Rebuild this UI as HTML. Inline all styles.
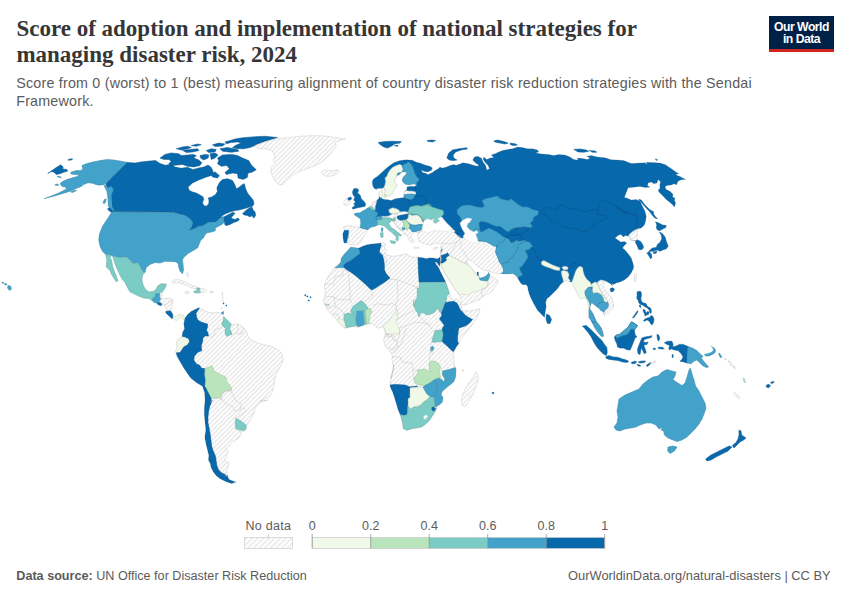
<!DOCTYPE html>
<html><head><meta charset="utf-8">
<style>
html,body{margin:0;padding:0;background:#fff;}
body{width:850px;height:600px;position:relative;overflow:hidden;font-family:"Liberation Sans",sans-serif;}
.t{position:absolute;white-space:nowrap;line-height:1;}
#title1{top:17.2px}#title2{top:42.9px}#title1,#title2{font-family:"Liberation Serif",serif;font-weight:bold;font-size:23px;color:#363636;left:16.4px;transform-origin:0 0;}
#sub1{top:75.7px}#sub2{top:94px}#sub1,#sub2{font-size:14.3px;letter-spacing:0.208px;color:#5b5b5b;left:16.2px;transform-origin:0 0;}
#logo{position:absolute;left:769px;top:16px;width:65px;height:36px;background:#002147;}
#logo .r{position:absolute;left:0;bottom:0;width:100%;height:2.6px;background:#ce261e;}
#logo .lt{position:absolute;left:0;width:100%;text-align:center;color:#fff;font-weight:bold;font-size:12.2px;line-height:1;letter-spacing:-0.5px;white-space:nowrap;}
.ft{font-size:12.7px;color:#5b5b5b;top:569.6px}#f1{left:16.3px;font-size:12.62px;top:569.7px}#f2{right:19.4px;font-size:12.86px;top:569.5px}
svg{position:absolute;left:0;top:0;}
</style></head><body>
<div class="t" id="title1">Score of adoption and implementation of national strategies for</div>
<div class="t" id="title2">managing disaster risk, 2024</div>
<div class="t" id="sub1">Score from 0 (worst) to 1 (best) measuring alignment of country disaster risk reduction strategies with the Sendai</div>
<div class="t" id="sub2">Framework.</div>
<div id="logo"><div class="lt" style="top:5.1px">Our World</div><div class="lt" style="top:16.9px">in Data</div><div class="r"></div></div>
<div class="t ft" id="f1"><b>Data source:</b> UN Office for Disaster Risk Reduction</div>
<div class="t ft" id="f2">OurWorldinData.org/natural-disasters | CC BY</div>
<svg width="850" height="600" viewBox="0 0 850 600">
<defs><pattern id="nd" patternUnits="userSpaceOnUse" width="3.3" height="3.3" patternTransform="rotate(-45 2 2)"><rect width="3.3" height="3.3" fill="#fff"/><path d="M -1,1.65 l 6,0" stroke="#cacaca" stroke-width="0.62"/></pattern><pattern id="ndl" patternUnits="userSpaceOnUse" width="4" height="4" patternTransform="rotate(-45 2 2)"><rect width="4" height="4" fill="#fff"/><path d="M -1,2 l 6,0" stroke="#ccc" stroke-width="0.7"/></pattern><mask id="clipSA" maskUnits="userSpaceOnUse" x="0" y="0" width="850" height="600"><polygon points="185,318 187.5,314.5 191.25,311.25 196.25,308.75 199,307.5 201.5,309 203.5,310 206,311.5 209,312.5 212,313 215,312.5 218,312 221,313.5 223,315 224,316.5 225.5,318.5 228,320.5 230,322.5 231.5,324.5 233,324.25 236,324 239,324.5 242,326 244,328 245.5,330 247,333 248,336 250,339 254,341 258,343 265,345 271.25,346.25 276.25,348.75 280,351.25 282.5,355 283,360 281.25,365 277.5,371.25 275.5,376.25 274.5,381.25 273.75,386.25 272.5,391.25 270,396.25 265,398.75 260,401.25 267.96,400 260.46,402.25 256.72,406 254.47,409.75 253.72,413.49 251.47,417.99 248.47,422.49 246.67,425.79 246.22,428.79 244.72,430.73 240.97,432.23 240.22,435.23 238.73,438.23 234.98,440.48 231.23,441.98 230.18,444.98 225.98,447.98 228.23,450.97 226.73,454.72 225.68,457.72 224.78,460.72 229.28,462.97 228.23,466.72 226.73,470.46 227.48,474.21 227.78,476.46 229.28,479.46 236.48,482.16 233.78,482.76 231.98,483.66 225.98,481.71 219.99,478.71 216.24,475.71 213.24,471.96 210.99,467.47 210.24,463.72 208.29,459.97 208.74,455.47 207.69,450.97 206.19,444.98 204.69,437.48 205.74,429.99 204.99,422.49 204.24,414.99 204.24,407.5 204.99,400 204.5,392.5 202.5,386.25 196.25,382.5 190,377.5 185,370 181.25,363.75 177,356.25 175.5,351.25 177,348.75 176.25,343.75 177.5,339.5 182,337 182.5,332.5 184.5,328.75 183.75,323.75" fill="#fff"/></mask><mask id="clipAF" maskUnits="userSpaceOnUse" x="0" y="0" width="850" height="600"><polygon points="350.62,246.88 355,247.5 358.75,248.12 362.5,246.25 367.5,244.38 373.75,243.75 380.62,243.12 383.75,242.5 385.62,244.38 384.38,247.5 386.25,250 385,252.5 386.25,255 392.5,256.25 400,255.5 406.25,253.75 410,256.25 415,257.5 418.75,257 421.75,257.4 426.25,258.38 430,257.63 433.75,258 437.5,258.75 439.75,257.1 440.35,259.5 440.65,262.5 439.38,266.63 438.4,264.75 436.75,262.5 434.88,261.9 436.38,264.38 438.63,267.38 440.5,271.5 442.75,276 444.63,279.75 445.75,282 446.88,285 448.12,288.75 449.38,292.5 450,296.25 452.5,299.38 457.5,298.75 460.62,303.75 461.88,306.88 461,309 463.12,310.62 467.5,311 472.5,310.62 476.88,309.38 480,308.75 479,313.12 476.25,318.75 472.5,324.38 468.12,330 463.75,335.62 460,340.62 458.75,343.75 456.88,346.25 455,349.38 453.5,351.88 453.12,355 454.38,358.75 453.75,362.5 455,366.88 455.62,367.5 456,371.25 455.62,367.5 456,372.5 455.62,377.5 453.75,381.88 450,385 446.25,388.12 442.5,391.25 441.25,394.38 443.12,397.5 442.5,401.88 440,404.38 436.88,406.25 436.88,408.12 435.62,411.25 433.12,415 430,420 426.25,423.75 421.88,426.88 417.5,428.12 412.5,428.75 406.88,430.62 403.12,428.75 402.5,423.75 401.25,418.75 400,414.38 398.12,410 396.25,403.75 394.38,397.5 392.5,391.88 390.62,388.12 389.75,385 390.62,380 391.88,375 393.12,370 393.75,365 390.62,378.75 392.5,373.75 393.75,368.75 393.12,365 391.88,360 392.5,356.25 391.25,353.12 388.75,350.62 386.25,347.5 384.38,343.75 383.75,340 384.38,337.5 385.62,333.12 384.38,330 383.12,326.25 380,328.12 376.25,327.5 373.75,324.38 370,323.75 365,324.75 361.25,326.25 357.5,327.25 353.75,326.5 348.75,327.5 345.62,328.5 343.12,326.88 340,323.75 336.88,320 333.75,316.88 331.25,313.75 327.5,310 325.62,306.25 323.75,302.5 323.5,300 324.38,296.25 325.62,292.5 324.75,288.75 324.38,285 325.62,281.25 327.5,277.5 330,273.75 332.5,270.62 334.38,267.75 338.12,265 340.62,261.88 341.25,258.12 343.75,254.38 347.5,250.62" fill="#fff"/></mask><mask id="clipEUR" maskUnits="userSpaceOnUse" x="0" y="0" width="850" height="600"><polygon points="352.5,245 348.75,243.75 346.88,243.12 344,243.12 343.12,238.75 342.75,233.75 344.38,230 343.12,226.88 347.5,225.62 353.75,226.5 360,227.5 360.62,222.5 360,218.75 357.5,216.88 355,215.62 353.75,213.75 356.88,212.75 360,212.75 361.88,211.25 364.38,210 367.5,208.12 368.75,206.88 371.25,206.25 371.88,202.5 375,201.5 376.25,200.62 378.75,198.75 379,195.62 378.75,192.5 381.88,190.62 383.12,192.5 382.5,196.25 381.88,198.75 385,199.38 388.12,199.75 391.25,200.62 395,198.75 400,198.12 403.75,197.5 403.75,194.75 404.38,191.25 406.88,189.38 406.88,186.88 410,186.25 414.38,186.5 416.5,185 413.75,184 409.38,185 405.62,184.38 403.12,182.5 401.88,180 403.12,176.88 405.62,174.38 406.88,172.5 404.38,171.88 402.5,171.88 400,173.75 397.5,175.62 396.25,176.75 394.75,179.75 395.12,182.75 397,185 395.88,188 394,190.25 392.5,193.25 390.25,195.5 388,196.25 387.25,195 385.62,196.88 384.38,195 385,190.62 383.75,187.5 381.88,188.75 379.38,188.5 376.25,189.38 373.75,188.12 372.5,185 372.25,181.25 373.75,178.75 377.5,176.25 381.25,173.12 385,169.38 388.75,166.25 393.75,162.75 400,160.62 406.25,159.75 412.5,160.25 416.25,162.25 420,163.12 425,165 430,166.25 432.5,168.12 431.25,170.62 427.5,171.88 423.75,171.25 421.25,170 422.5,172.5 425,173.12 428.12,174.38 432.5,172.5 435,170.62 438.12,168.75 440,166.88 441.88,168.12 445,167.5 450,165.62 453.75,164.38 456.25,165.25 463.12,162.75 468.75,163.75 472.5,165 477.5,166.25 478.75,165 475,162.5 472.75,160 474.38,156.88 477.5,156.25 481.25,158.12 483.12,161.88 485.62,165.62 486.88,170 489.38,168.75 488.12,165.62 485.62,163.12 483.12,159.38 483.75,156.88 486.88,159.38 490,158.12 493.75,157.5 491.25,155 495,153.75 498.75,151.88 502.5,150.62 507.5,149.38 512.5,148.75 517.5,146.88 522.5,147.5 527.5,148.75 532.5,148.75 537.5,150 538.75,151.88 535.62,153.12 542.5,154 548.75,154.38 553.75,155.62 558.75,154.38 565,155 570,156.88 573.75,159.38 578.12,160 577.5,158.12 582.5,158.5 587.5,159.38 590,158.12 586.88,156.25 591.25,155.62 597.5,156.88 605,157.75 611.25,159.75 617.5,160 623.75,160.62 630,163.12 631.88,163.5 638.75,163.12 645,162.75 647.5,164.38 646.25,162.25 652.5,162.5 660,163.12 665,164.38 668.75,166.88 672.5,169.38 676.25,172.25 678.75,173.5 675.62,174.75 680,176.5 685.62,179.38 681.25,179.75 678.12,181.25 676.25,185 674.38,183.75 671.25,185 666.88,185.62 665,186.88 666.25,189.38 670,191.25 673.12,194.38 672.5,196.88 675,198.12 674.38,200.62 675.62,202.5 674.75,206.88 670.62,203.12 666.25,199.38 662.5,195.62 659.38,192.5 658.12,190.62 660,188.12 659.75,184.38 660.62,181.88 658.12,179.38 656.88,183.12 653.75,183.75 651.25,181.88 648.12,183.12 647.5,185.62 650,187.25 645,187.5 640,186.5 633.75,187.25 628.12,187.75 626.25,192.5 624.38,197.5 626.88,198.12 631.25,200 636.25,199.38 640,201.25 642.5,206.25 645,211.25 646.25,216.25 645.62,221.25 644.38,225 641.25,228.12 638.12,228.75 637.5,232.5 636.88,236.25 637.5,239.75 640.62,241.25 643.12,245 643.75,248.12 641.25,250 638.5,249.38 636.88,245.62 635.62,243.12 635,240.62 633.12,240.62 630.62,240 630,237.5 628.12,236.25 625.62,235.62 623.12,236.88 621.25,234.38 618.75,235 615,238.12 618.12,240 620.62,241.88 624.38,241.5 626.88,243.12 624.38,245.62 622.5,248.12 625,250 628.75,254.38 631.25,258.12 632.75,262.5 633.75,266.25 633.12,270 633.12,268.75 631.25,273.12 628.12,276.88 624.38,280 620,281.88 616.25,283.12 613.75,284.38 611.88,283.75 612.5,286.25 611.25,284.38 609.38,283.12 606.25,281.88 603.75,280.62 605,283.12 603.12,285.62 604.38,288.75 608.12,293.75 611.88,298.12 613.75,303.75 613.12,308.12 610,311.25 606.25,314.38 604.38,316.25 603.75,313.75 603.12,311.88 600.62,310.62 598.5,308.12 596.88,306.88 594.38,305 591.88,303.12 590.62,305 590,308.75 593.12,313.75 595,318.12 596.88,321.88 599.38,325 601.88,328.75 603.12,333.12 603.75,336.25 601.88,336.88 599.38,334.38 596.88,331.25 594.38,327.5 592.5,323.75 590.62,320 588.75,317.5 588.75,313.75 588.75,310 588.5,307.5 588.12,304.38 586.88,300.62 585,297.5 581.88,298.75 579.38,298.12 578.12,295 576.25,291.88 574.38,288.12 572.5,285 571.88,281.88 568.75,281.88 566.25,280.62 564.38,281.88 562.5,282.5 560,285 557.5,288.75 553.75,292.5 550,296.25 546.88,298.75 545.62,302.5 546.25,306.25 545.62,310 544.5,317.5 537.25,310 536.25,308.12 533.75,303.75 531.25,298.75 529.38,294.38 528.12,290 527.5,286.25 525.62,284.38 523.12,285 520.62,283.12 518.75,280 517.5,277.5 515,275 513.12,273.75 508.12,274 503.75,274 501.25,273.75 497.5,273.75 492.5,272.5 489.38,271.25 486.25,270.62 482.5,270 478.75,266.88 475,263.75 471.25,260.62 468.12,259.38 466.5,260.62 466.88,262.5 468.75,265 471.25,267.5 473.75,270.62 475.62,273.75 477.25,275 476.88,271.88 478.5,271.88 478.75,275.62 479.38,277.25 480.62,277.75 483.75,277.12 486.5,275.25 487.75,273.75 488.75,272.25 490,275 492.5,276.88 495.62,278.75 498.12,280.62 497.5,283.12 495,286.88 493.12,290 490,292.5 485.62,295 482.5,296.88 480,299.38 475,301.25 470,303.12 465.62,305 461.88,305 461.25,301.88 460.62,298.12 459.38,295 456.88,291.88 453.75,287.5 450.62,282.5 447.5,277.5 444.38,272.5 441.88,267.5 442.15,267.75 440.88,265.5 440.88,262.88 440.65,262.5 440.35,259.5 439.9,257.1 440.13,255 440.5,252.75 440.88,249.38 441.25,246.75 440.62,247.5 441.88,243.12 438.75,243.75 435,243.12 431.25,245 426.88,244.38 422.5,243.12 418.75,241.25 418.12,237.5 417.5,234.38 420,231.88 418.12,232.75 415,231.88 412.5,233.75 410.62,236.25 412.5,238.75 414.38,241.88 411.88,243.12 409.38,240 407.5,236.88 406,233.75 404.38,235 403.75,233.12 402.5,231.25 400,229.38 397.5,226.88 395,223.75 393.12,221.5 391.88,220.62 390,221.88 388.75,223.75 391.25,227.5 395,230 398.75,233.12 401.88,235 400.62,236.25 398.12,235.62 398.75,238.75 397.5,241.25 395.62,240 396.25,236.88 393.75,234.38 390,231.25 386.88,228.75 384.38,226.25 381.88,225.62 380,225 378.12,225 375,226.5 371.25,227.25 368.12,229.38 366.88,232.5 364.38,235.62 362.5,238.75 360.62,242.5 356.88,244.38 352.5,245" fill="#fff"/></mask></defs>
<g stroke-linejoin="round">
<polygon points="128.12,162.5 120,161 113.75,160 107.5,159.38 100,160.62 92.5,162.12 86.25,163.75 81.88,165.62 82.75,168.5 81.25,170.62 76.25,170.62 71.25,171.88 70.62,173.75 74.38,174.62 79,174.38 77.25,176.5 72.5,177.75 66.88,179.62 62.5,181.5 60,183.75 61.88,186.25 64.75,187 66.88,188.12 65,189.75 58.75,193.12 51.25,196 44.38,198.5 52.5,196.5 61.25,194 70,191.25 76.25,188.38 81.25,186.5 83.12,184.75 88.12,182.75 92.5,183.25 95.62,184.38 99.38,185.25 103.75,184.38 128.12,162.5" fill="#43a2ca" stroke="#3785a6" stroke-width="0.5"/>
<polygon points="104.38,199.38 106.25,199 105.62,201.88 104,204 103.12,202.5" fill="#43a2ca" stroke="#3785a6" stroke-width="0.5"/>
<polygon points="47.75,173.5 51.88,170.62 56.25,167.5 60.62,164.75 63.12,166.88 62.75,169 66.88,169.38 67.75,171 63.75,172.25 60,173.75 56.25,174.5 54,172.25 51.25,171.5" fill="#0868ac" stroke="#0a568c" stroke-width="0.5"/>
<polygon points="67.75,160 70.62,158.75 72.75,159 70.62,160.25" fill="#0868ac" stroke="#0a568c" stroke-width="0.5"/>
<polygon points="56.88,176.25 60,176.5 61.5,177.75 58.75,177.25" fill="#43a2ca" stroke="#3785a6" stroke-width="0.5"/>
<polygon points="55,184.38 58.12,184 58.5,185.25 55.62,185.5" fill="#43a2ca" stroke="#3785a6" stroke-width="0.5"/>
<polygon points="70.62,191.88 74.38,190.25 76.5,190.62 72.75,192.5" fill="#43a2ca" stroke="#3785a6" stroke-width="0.5"/>
<polygon points="127.5,162.5 135,163 142.5,161.75 150,161 155.5,160.5 160,163.5 165.5,165.25 171.25,164.25 175,167 181.25,168.25 187.5,167.25 193,169.5 198.75,168 203.75,167 208,165 211.25,167.5 213,171.25 211.25,175.5 205,177.5 198.75,180 192.5,183 188,187 189.38,190.62 192.5,191.88 196.25,193.12 200,195 203.12,196.88 203.75,199.38 202.5,202.5 203.75,205.62 206.25,206.25 208.75,203.75 209,200 208.12,198.12 211.88,196.88 215.62,194.38 217.5,191.25 216.88,188.12 218.12,185 220,181.88 222.5,179.38 227.5,178.75 231.25,180 232.5,180.62 235,185 236.25,188.75 238.75,187.5 242.5,184.38 244.38,183.75 245.62,188.75 247.5,193.12 250.62,196.88 253.12,200 254,203.75 252.5,206.25 248.12,207.5 243.75,208.75 238.75,210 235,210.62 230,211.88 225.62,213.75 222.5,215.62 220,217.5 223.75,216.88 228.75,214.38 232.5,212.5 235,213.12 233.12,215.62 231.25,217.5 232.5,218.75 235,219.38 238.12,218.12 239.38,219.38 237.5,221.25 233.75,222.5 230,224.38 226.88,225.62 225,225 224.5,222.25 223.5,221 224,217.5 222,217 218.5,219.5 216,222 208,222.5 203,225.75 198,226.5 195,228.5 191.25,229.75 188.75,230.25 191.88,226.25 192.5,222.5 190.62,219.38 187.5,216.88 183.75,215 180,214.38 173,212.25 162.5,212 137.5,211.75 115,211.5 111.25,211.5 112,205 111.25,197.5 110,192.5 107.5,187.5 105.5,183.75" fill="#0868ac" stroke="#0a568c" stroke-width="0.5"/>
<polygon points="103.75,184.38 105,187.5 106.88,191.25 107.5,195 108.12,200 108.12,205 109.38,208.75 111.88,212.5 113.75,215 115,212.5 113.75,210 111.5,205 111.88,201.25 111.25,197.5 111.88,193.75 113.5,190 111.88,186.5 108.12,187.5" fill="#43a2ca" stroke="#3785a6" stroke-width="0.5"/>
<polygon points="242.5,213.75 245,211.25 248.12,208.75 251.88,206.88 253.12,210 255,211.88 255.62,215.62 253.75,218.12 251.88,215.62 250,216.88 247.5,215.62 244.38,215" fill="#0868ac" stroke="#0a568c" stroke-width="0.5"/>
<polygon points="107.5,208.75 110,208.12 113.12,211.25 113.75,213.12 111.25,212.25 108.5,210.25" fill="#0868ac" stroke="#0a568c" stroke-width="0.5"/>
<polygon points="112,211.75 107.5,218.75 102.5,226.25 99.5,233.75 98.75,240 100,246.25 102.5,251.25 105.62,254.38 110.62,255 118.75,257.5 126.25,256.88 130,260 133.12,263.75 137.5,262.5 140,266.25 142.5,271.25 145,272.5 146.25,267.5 150,264.38 155,262.5 160,263.12 165,261.25 171.25,261.5 176.25,261.88 178.12,263.75 178.75,267.5 180,271.25 182.5,273.75 183.5,270 183.12,265 182.5,260 183.25,258 188,253.5 194,250 198,247.5 198.75,245 200.62,240.62 203.75,237.5 205,235 206.5,233 210,232.25 213.5,231.5 215.5,230.5 215,228.5 217,227 221,225 224.5,222.25 223.5,221 224,217.5 222,217 218.5,219.5 216,222 208,222.5 203,225.75 198,226.5 195,228.5 191.25,229.75 188.75,230.25 191.88,226.25 192.5,222.5 190.62,219.38 187.5,216.88 183.75,215 180,214.38 173.75,212.5 140,212" fill="#43a2ca" stroke="#3785a6" stroke-width="0.5"/>
<polygon points="105.62,254.38 110.62,255 118.75,257.5 126.25,256.88 130,260 133.12,263.75 137.5,262.5 140,266.25 142.5,271.25 145,272.5 145,272.5 142.5,275 141.88,280 143.12,285 145,288.75 148.75,291.88 153.75,291.25 156.25,288.75 158.12,285.62 161.25,283.75 166.25,284 165.62,286.88 163.75,290 161.88,292.5 160,293.5 155.62,293.75 155.62,296.5 153.12,298.12 152.25,300.62 148.75,298.5 143.75,298.12 137.5,295.62 132.5,293.12 130,291.88 127.5,287.5 125,282.5 121.88,278.75 118.12,271.25 115,263.75 113.12,257.5 111.5,255.5 110,257 111.88,261.25 112.5,266.25 114.38,271.25 116.88,277.5 118,281 116,281.5 111.88,275 110,270.62 106.25,266.88 106.88,260" fill="#7bccc4" stroke="#62a59e" stroke-width="0.5"/>
<polygon points="160,158.12 165,154.38 171.25,152.88 178.75,153.75 181.25,155.62 187.5,155 193.12,154.38 196.25,155.62 193.75,158.12 198.75,160 201.88,162.75 200,165.62 193.75,166.88 187.5,166.25 182.5,164.38 177.5,165 171.25,165.62 168.75,163.75 171.25,161.25 168.75,159.38 163.75,159.38" fill="#0868ac" stroke="#0a568c" stroke-width="0.5"/>
<polygon points="176.25,148.75 182.5,146.88 187.5,146.25 191.25,147.5 187.5,148.75 181.25,150" fill="#0868ac" stroke="#0a568c" stroke-width="0.5"/>
<polygon points="191.25,145.62 197.5,144 201.25,144.75 196.25,146.25" fill="#0868ac" stroke="#0a568c" stroke-width="0.5"/>
<polygon points="182.5,150.25 190,149.38 197.5,148.75 199,150.62 192.5,152 186.25,152.5" fill="#0868ac" stroke="#0a568c" stroke-width="0.5"/>
<polygon points="206.25,150.62 211.25,148.75 216.25,149.38 215,151.88 208.75,152.5" fill="#0868ac" stroke="#0a568c" stroke-width="0.5"/>
<polygon points="200,155.62 205,154.38 208.75,155 208.12,158.12 203.75,160 200.62,158.12" fill="#0868ac" stroke="#0a568c" stroke-width="0.5"/>
<polygon points="210,153.75 215,153.12 218.12,155 215,158.12 211.25,159.38" fill="#0868ac" stroke="#0a568c" stroke-width="0.5"/>
<polygon points="210,173.12 215,171.88 219.38,175.62 217.5,178.12 212.5,176.88" fill="#0868ac" stroke="#0a568c" stroke-width="0.5"/>
<polygon points="236.25,138.75 242.5,137.75 252.5,136.88 265,136.25 277.5,137.5 270,140 262.5,142.5 255,145.62 250,147.5 243.75,148.75 237.5,148.75 232.5,147.5 236.25,145 241.25,143.12 237.5,141.88 231.25,142.5 226.25,143.75 225,141.88 230,140.62" fill="#0868ac" stroke="#0a568c" stroke-width="0.5"/>
<polygon points="212.5,144.75 218.75,143.12 225,144 222.5,146 215,146.5" fill="#0868ac" stroke="#0a568c" stroke-width="0.5"/>
<polygon points="220,148.75 227.5,147.5 237.5,149.38 238.75,151.25 231.25,152.25 222.5,151.25" fill="#0868ac" stroke="#0a568c" stroke-width="0.5"/>
<polygon points="217.5,158.12 222.5,155 231.25,154.38 237.5,155.38 242.5,158.12 248.75,160.62 251.25,165 256.25,169.75 251.88,172.25 248.12,173.12 247.25,177.5 243.12,179.38 238.12,178.12 237.5,173.75 232.5,173.12 226.25,174.38 225,172.5 229.38,168.75 226.88,165.62 221.25,166.25 217.5,163.75 218.75,160.62" fill="#0868ac" stroke="#0a568c" stroke-width="0.5"/>
<polygon points="255,145.62 261.25,143.12 268.75,140.62 277.5,138.5 287.5,137.75 300,136.25 312.5,135.62 325,136 335,137.5 345.62,139 340,140.62 335,142.5 336.25,146.25 333.12,150 331.25,153.12 327.5,156.88 323.75,160.62 320,163.12 315,165.62 310,167.5 305,169.38 300,171.25 295,173.75 290,177.5 286.25,181.25 283.12,184.38 280,185 276.25,182.5 273.75,178.75 271.88,175 270.62,170.62 271.88,166.88 275,163.75 273.12,160.62 275,156.88 273.75,153.12 271.25,150 266.25,148.75 260,148.75 256.25,147.5" fill="url(#nd)" stroke="#cbcbcb" stroke-width="0.5"/>
<polygon points="321.25,171.88 325,170 331.25,170.62 337.5,169.75 339,171.88 336.25,174.38 331.25,176.25 326.25,176.25 322.5,174.38" fill="url(#nd)" stroke="#cbcbcb" stroke-width="0.5"/>
<polygon points="155.62,293.75 160,293.75 160,296.88 161,298.75 159.38,301.25 156.88,302.75 154.38,302.75 152.25,300.62 153.12,298.12 155.62,296.5" fill="#43a2ca" stroke="#3785a6" stroke-width="0.5"/>
<polygon points="160,293.5 161.88,292.5 162.25,295.62 161,298.5 160,296.88" fill="url(#nd)" stroke="#cbcbcb" stroke-width="0.5"/>
<polygon points="161,299 166.25,298.12 171.88,299 173.12,300.62 170,301.88 167.5,303.75 164.38,305 161.88,304 160,301.88" fill="url(#nd)" stroke="#cbcbcb" stroke-width="0.5"/>
<polygon points="164.38,305 167.5,303.75 170,301.88 173.12,300.62 171.88,306.25 170.62,310.62 167.5,310.62 165.62,308.12" fill="url(#nd)" stroke="#cbcbcb" stroke-width="0.5"/>
<polygon points="156.88,302.75 159.38,302.25 161.88,304 161.25,305.62 158.12,304.75" fill="#0868ac" stroke="#0a568c" stroke-width="0.5"/>
<polygon points="165.88,311.25 170.62,311 172.5,313.75 173.12,317.5 171.88,318.75 170.25,316.88 167.5,314.38 166,313.12" fill="#0868ac" stroke="#0a568c" stroke-width="0.5"/>
<polygon points="173.12,315.62 175.62,316.88 178.12,315 181.25,314.38 183.75,315.62 185,318.12 184,320 182.5,318.12 180,317.25 178.12,319.38 176.25,320.62 174,319.38 173.12,317.5" fill="#f0f9e8" stroke="#c3ccbc" stroke-width="0.5"/>
<polygon points="171.25,281.88 173.75,280 177.5,279.38 182.5,280.62 187.5,283.12 192.5,285.62 197.5,287.5 200,288.75 195,288.75 190,287.5 187.5,285.62 182.5,283.75 177.5,282.5 173.75,283.12" fill="url(#nd)" stroke="#cbcbcb" stroke-width="0.5"/>
<polygon points="185,291.88 187.5,291.25 189.75,292.5 187.5,293.75 185.25,293.12" fill="#f0f9e8" stroke="#c3ccbc" stroke-width="0.5"/>
<polygon points="193.75,291.25 196.88,290.62 196.88,288.12 200,288.12 200.62,292.5 198.12,293.12 194.38,292.75" fill="#7bccc4" stroke="#62a59e" stroke-width="0.5"/>
<polygon points="200,288.12 203.75,288.75 206.88,290.62 205,292.5 200.62,292.75" fill="url(#nd)" stroke="#cbcbcb" stroke-width="0.5"/>
<polygon points="210,291.5 213.12,291.25 213.5,292.75 210.25,293" fill="url(#nd)" stroke="#cbcbcb" stroke-width="0.5"/>
<polygon points="186.25,273.12 187.75,272.75 188.75,275.62 187.75,277.25 186.88,275" fill="url(#nd)" stroke="#cbcbcb" stroke-width="0.5"/>
<polygon points="221.5,312.5 223.5,311.5 223.5,314 221.75,314.25" fill="#43a2ca" stroke="#3785a6" stroke-width="0.5"/>
<g mask="url(#clipSA)">
<rect x="0" y="0" width="850" height="600" fill="url(#nd)"/>
<polygon points="185,318 187.5,314.5 191.25,311.25 196.25,308.75 199,307.5 199.5,308 197.5,311 196,313.5 196.5,316.5 197.5,319.5 200,321.5 204,323 207.5,324 207.5,327 206.5,330 208,333 208.5,336 205,336 203,338 202.5,342 201.5,345 201.25,347.5 198.12,345.62 193.75,345 189.38,341.88 188.12,338.75 183.75,336.88 179.5,336.75 181.25,332.5 183,328.75 182.5,323.75" fill="#0868ac" stroke="#0a568c" stroke-width="0.5"/>
<polygon points="175,340 179.38,336.88 183.75,336.88 188.12,338.75 189.38,341.88 187.5,345 183.75,346.88 181.88,350 180,352.5 175,353.12" fill="#f0f9e8" stroke="#c3ccbc" stroke-width="0.5"/>
<polygon points="180,352.5 181.88,350 183.75,346.88 187.5,345 189.38,341.88 193.75,345 198.12,345.62 201.25,347.5 201.88,350.62 197.5,352.5 194.38,356.25 193.75,360 196.25,363.75 200,365.62 201.25,368.12 205,368.75 204.75,375 205.62,380 205,386.25 206.25,390 200,390 172.5,353.75 175,353.12" fill="#0868ac" stroke="#0a568c" stroke-width="0.5"/>
<polygon points="205,368.75 211.88,365.62 214.38,371.25 220,374.38 225.62,376.88 226.88,381.88 230.62,386.25 231.88,390 226.25,390.62 222.5,393.12 220.62,397.5 215,398.12 211.25,398.75 208.12,393.12 205.62,387.5 205,386.25 205.62,380 204.75,375" fill="#bae4bc" stroke="#97bb99" stroke-width="0.5"/>
<polygon points="202.5,386.25 205.5,387.5 208.75,393.75 211.25,398.75 210,405 212.19,400 210.24,404.5 208.74,410.49 207.99,416.49 207.99,422.49 209.19,428.49 210.24,434.48 210.99,440.48 211.74,446.48 213.24,450.97 215.49,456.22 216.24,461.47 216.99,465.97 218.49,469.72 221.48,472.71 225.98,474.96 223.73,476.46 227.48,475.71 229.28,479.46 236.48,482.16 233.78,482.76 231.98,483.66 225.98,481.71 219.99,478.71 216.24,475.71 213.24,471.96 210.99,467.47 210.24,463.72 208.29,459.97 208.74,455.47 207.69,450.97 206.19,444.98 204.69,437.48 205.74,429.99 204.99,422.49 204.24,414.99 204.24,407.5 204.99,400 204.5,392.5" fill="#0868ac" stroke="#0a568c" stroke-width="0.5"/>
<polygon points="235.73,418.29 239.48,420.24 243.97,423.24 246.67,425.79 246.22,428.79 243.67,430.73 239.48,429.69 235.73,428.79 235.28,423.99" fill="#7bccc4" stroke="#62a59e" stroke-width="0.5"/>
<polygon points="224,316.5 225.5,318.5 228,320.5 230,322.5 231.5,324.5 230.5,326 229.5,328.5 231,331.5 232,334.5 229.5,335 227,336.5 225.5,334.5 225,331.5 225.5,328.5 223,326 221.75,324 223,321" fill="#7bccc4" stroke="#62a59e" stroke-width="0.5"/>
<polyline points="221.25,396.25 225,391.25 231.25,391.25 233.75,396.25 236.25,401.25 241.25,403.75 240,410 235,411.25 232.5,406.25 226.25,403.75 222.5,400 221.25,396.25" fill="none" stroke="#c2c2c2" stroke-width="0.45"/>
<polyline points="208.5,336 210,337.5 214,335.5 215,332.5 214,330 217,329 220,328 223,326" fill="none" stroke="#c2c2c2" stroke-width="0.45"/>
<polyline points="232,334.5 236.5,333.5 240,334 244,332.5" fill="none" stroke="#c2c2c2" stroke-width="0.45"/>
<polyline points="237.5,324.25 238,329 236.5,333.5" fill="none" stroke="#c2c2c2" stroke-width="0.45"/>
<polyline points="243,327 242,331 240,334" fill="none" stroke="#c2c2c2" stroke-width="0.45"/>
<polyline points="211.25,398.75 217.5,398 222.5,400" fill="none" stroke="#c2c2c2" stroke-width="0.45"/>
<polyline points="240,410 243.75,407.5 246.25,411.25 235.73,418.29" fill="none" stroke="#c2c2c2" stroke-width="0.45"/>
<polyline points="235.73,418.29 235.28,423.99 235.73,428.79 240.97,432.23" fill="none" stroke="#c2c2c2" stroke-width="0.45"/>
</g>
<g mask="url(#clipAF)">
<rect x="0" y="0" width="850" height="600" fill="url(#nd)"/>
</g>
<polygon points="461.88,403.75 461.25,398.75 463.12,393.12 466.25,386.88 470,381.25 473.12,376.88 476.25,371.88 477.5,374.38 478.12,380 476.25,386.25 473.75,392.5 470.62,398.75 467.5,403.75 465,406.25 462.5,405.62" fill="url(#nd)" stroke="#cbcbcb" stroke-width="0.5"/>
<g mask="url(#clipAF)">
<polygon points="334.38,267.75 338.12,265 340.62,261.88 341.25,258.12 343.75,254.38 347.5,250.62 350.62,246.88 355,247.5 358.75,248.12 359.75,250.62 360.25,253.75 357.5,255.62 355,257.5 352.5,259.38 350,261.25 346.25,263.12 344,264.75 344,267.5" fill="#43a2ca" stroke="#3785a6" stroke-width="0.5"/>
<polygon points="358.75,248.12 362.5,246.25 367.5,244.38 373.75,243.75 380.62,243.12 381.25,245.62 380,248.75 379.38,251.88 382.5,255 383.75,260 384.38,265 384.38,270 386.25,273.75 390,278.12 385,281.88 380,285 375.62,288.12 371.88,290 370,288.75 366.25,285 361.25,280.62 356.25,276.25 351.25,272.5 346.25,269.38 344,267.5 344,264.75 346.25,263.12 350,261.25 352.5,259.38 355,257.5 357.5,255.62 360.25,253.75 359.75,250.62" fill="#0868ac" stroke="#0a568c" stroke-width="0.5"/>
<polyline points="379.38,251.88 382.5,255 385,252.5" fill="none" stroke="#c2c2c2" stroke-width="0.45"/>
<polygon points="418,257.63 421.75,257.4 426.25,258.38 430,257.63 433.75,258 437.5,258.75 439.75,257.1 440.35,259.5 440.65,262.5 439.38,266.63 438.4,264.75 436.75,262.5 434.88,261.9 436.38,264.38 438.63,267.38 440.5,271.5 442.75,276 444.63,279.75 445.75,282 419.13,282.15 418.38,270" fill="#0868ac" stroke="#0a568c" stroke-width="0.5"/>
<polygon points="419.38,282.5 445.62,282.25 446.88,285 448.12,288.75 449.38,292.5 448.75,294.38 446.88,295.62 446.25,300 445.62,302.5 443.75,306.25 441.88,309.38 440,312.5 438.75,309.38 436.88,308.75 435,311.88 431.25,313.75 426.88,315 423.12,312.5 420.62,313.12 418.75,316.88 418.12,313.75 415.62,310 413.75,305 413.75,300 413.75,306.25 415,303.12 415.62,299.38 417.25,298.12 417.25,288.12 419.38,288.12" fill="#7bccc4" stroke="#62a59e" stroke-width="0.5"/>
<polygon points="445.62,302.5 448.75,301.88 453.75,301.25 456.88,303.12 458.75,306.25 460,309.38 462.5,311.88 465,315 468.75,317.5 472.5,319.38 470,322.5 466.25,325.62 462.5,326.88 458.75,328.12 455,330 451.25,330 447.5,328.12 444.38,325.62 441.88,321.88 439.38,318.75 441.88,315.62 441.25,312.5 443.12,308.75 444.38,305.62" fill="#0868ac" stroke="#0a568c" stroke-width="0.5"/>
<polygon points="444.38,325.62 447.5,328.12 451.25,330 455,330 458.75,328.12 458.12,332.5 457.5,337.5 457.75,341.88 458.75,343.75 456.88,346.25 455,349.38 453.5,351.88 450.62,349.38 447.5,346.25 443.75,343.12 441.88,341.25 442.5,337.5 443.12,334.38 441.88,330 443.12,326.88" fill="#0868ac" stroke="#0a568c" stroke-width="0.5"/>
<polygon points="435,330.62 441.88,330 443.12,334.38 442.5,337.5 441.88,341.25 437.5,341.88 432.25,342.25 432.75,338.12 434,334.38" fill="#7bccc4" stroke="#62a59e" stroke-width="0.5"/>
<polygon points="430.62,347.5 432.75,346.25 434,348.12 432.75,350.62 430.62,351.25" fill="#43a2ca" stroke="#3785a6" stroke-width="0.5"/>
<polygon points="350.62,310.62 353.12,306.25 357.5,303.12 361.25,300.62 364.38,303.12 366.88,306.25 368.12,308.75 365,310.62 363.12,311.25 356.25,311.25 355,313.12 351.88,313.75" fill="#7bccc4" stroke="#62a59e" stroke-width="0.5"/>
<polygon points="344,314.38 348.12,313.12 351.88,313.75 355,313.12 356.25,315 356,320 356.88,325.62 353.75,326.5 348.75,327.25 346,327.5 345,323.75 344,320" fill="#7bccc4" stroke="#62a59e" stroke-width="0.5"/>
<polygon points="356.25,311.5 363.12,311.25 363.75,315 364,320 364.75,323.75 363.12,325.62 358.75,327.25 356.88,325.62 356,320 356.5,315" fill="#43a2ca" stroke="#3785a6" stroke-width="0.5"/>
<polygon points="363.12,311.25 365,311 365.62,315 366.25,320 366.5,324 364.75,324.38 364,320 363.75,315" fill="#7bccc4" stroke="#62a59e" stroke-width="0.5"/>
<polygon points="365,310.62 368.12,308.75 370.62,308.5 371.88,311.88 370,315 369.38,320 369.38,323.5 366.5,324 366.25,320 365.62,315" fill="#bae4bc" stroke="#97bb99" stroke-width="0.5"/>
<polygon points="337.25,320.25 340,317.75 341.88,319.38 344,321.25 345,324.38 345.62,328.12 343.12,326.88 340,323.75" fill="#f0f9e8" stroke="#c3ccbc" stroke-width="0.5"/>
<polygon points="383.12,326.25 385,323.75 388.75,321.25 391.88,316.88 394.38,313.12 396.25,309.38 397.5,311.25 396.88,315 398.12,318.75 396.25,321.25 398.12,326.25 400,331.25 399.38,334.38 395,333.75 390,334 386.25,333.75 385.25,330.62" fill="#f0f9e8" stroke="#c3ccbc" stroke-width="0.5"/>
<polygon points="389.75,385 395,384.38 405,385 410,386.88 417.5,386 417.5,387.25 410.62,387.5 410,397.5 408.12,398.12 407.75,406.25 407.25,414.38 403.75,415.62 400,414.38 398.12,410 396.25,403.75 394.38,397.5 392.5,391.88 390.62,388.12" fill="#0868ac" stroke="#0a568c" stroke-width="0.5"/>
<polygon points="410,388 418,387 423,387 424.6,390 427,394 431,397 428,400 424,402 421,405 416,406 413,409 409,408 408,399 410,398" fill="#f0f9e8" stroke="#c3ccbc" stroke-width="0.5"/>
<polygon points="414,378 417.4,374 418,370 425,369 430,372 429,365 430,361.6 434,361 438.6,363.6 440.6,367 439.4,372.4 442,376 439,378 434,380 430,383 425,385.6 419.4,385 415,383" fill="#bae4bc" stroke="#97bb99" stroke-width="0.5"/>
<polygon points="423,387 425,385.6 430,383 434,380 436.6,383 437.4,388 436,393 434,397 431,397 427,394 424.6,390" fill="#43a2ca" stroke="#3785a6" stroke-width="0.5"/>
<polygon points="439.4,366 442,370 442.6,375 445,379 444,382 442,380 441,377 439.4,372.4 440.6,367" fill="#f0f9e8" stroke="#c3ccbc" stroke-width="0.5"/>
<polygon points="442.6,371 449,369.6 455.4,367.6 459,372 459,380 453,386 447,390 445,396 446,400 443,405 438,407 435,406.4 434.6,401 434,397 436,393 437.4,388 436.6,383 434,380 439,378 442,380 444,382 445,379 442.6,375" fill="#43a2ca" stroke="#3785a6" stroke-width="0.5"/>
<polygon points="400,414.38 403.75,415.62 407.25,414.38 407.75,406.25 410.62,409.38 413.75,406.88 417.5,406.88 421.25,405 423.75,401.88 427.5,399.38 429.38,396.88 431.88,397.25 433.75,398.12 434.38,402.5 435,407.5 436.25,408.75 436.88,408.12 435.62,411.25 433.12,415 430,420 426.25,423.75 421.88,426.88 417.5,428.12 412.5,428.75 406.88,430.62 403.12,428.75 402.5,423.75 401.25,418.75" fill="#7bccc4" stroke="#62a59e" stroke-width="0.5"/>
<polygon points="431.88,407.5 433.75,406.88 435.25,408.75 434,411 431.88,410" fill="#0868ac" stroke="#0a568c" stroke-width="0.5"/>
<polygon points="423.5,416.5 426,414.75 428.12,416.25 425.62,419.38 423.75,418.75" fill="url(#nd)" stroke="#cbcbcb" stroke-width="0.5"/>
</g>
<g mask="url(#clipEUR)">
<rect x="0" y="0" width="850" height="600" fill="#0868ac"/>
<polygon points="340,222.5 360,222.5 360,227.5 365,229 368.12,229.38 372.5,236.25 366.25,250 346.88,250 346.88,243.12 347.5,240 348.75,235 349,230 344.38,230 340,229.38" fill="url(#nd)" stroke="#cbcbcb" stroke-width="0.5"/>
<polygon points="360,227.5 353.75,221.25 350,215 352.5,210 366.25,205 367.5,208.12 369.38,207.75 371.25,209.38 373.75,210.62 376.88,211.88 378.12,213.75 376.88,215.62 375.62,217.5 376.88,220 377.5,223.12 378.12,225 377.5,230 368.12,230 368.12,229.38 365,229" fill="#43a2ca" stroke="#3785a6" stroke-width="0.5"/>
<polygon points="366.88,205.62 368.75,206.88 371.25,206.25 373.75,208.12 375,210 373.75,210.62 371.25,209.38 369.38,207.75 367.5,208.12" fill="#7bccc4" stroke="#62a59e" stroke-width="0.5"/>
<polygon points="371.25,206.25 369.38,203.75 371.25,200 376.88,199.75 376,203.75 375.25,206.25 375,210 373.75,208.12" fill="url(#nd)" stroke="#cbcbcb" stroke-width="0.5"/>
<polygon points="375.62,217.5 378.75,216.25 381.88,216.25 383.12,218.12 380.62,219.75 377.5,220 376.88,220" fill="#43a2ca" stroke="#3785a6" stroke-width="0.5"/>
<polygon points="383.12,218.12 381.88,216.25 385,216.5 388.75,216 392.5,213.75 396.88,213.5 397.5,215.62 397.5,216.25 395,217.5 391.88,219.75 391.25,218.5 387.5,217.75" fill="url(#nd)" stroke="#cbcbcb" stroke-width="0.5"/>
<polygon points="388.75,209.38 392.5,207.75 396.25,208.75 398.75,210 400,211.88 396.88,213.5 392.5,213.75 389.38,212.75" fill="#f0f9e8" stroke="#c3ccbc" stroke-width="0.5"/>
<polygon points="396.88,213.5 400,211.88 404.38,211.5 408.12,212.25 408.75,214 406.25,214.38 401.25,215.25 397.5,216.25 397.5,215.62" fill="url(#nd)" stroke="#cbcbcb" stroke-width="0.5"/>
<polygon points="377.5,223.12 376.88,220 380.62,219.75 383.12,218.12 387.5,217.75 391.25,218.5 391.88,219.75 391.88,220.62 390,221.88 388.75,223.75 391.25,227.5 395,230 398.75,233.12 405,235 402.5,238.75 398.75,242.5 393.75,242.5 390,233.75 385,230 380,227.5 377.5,226.25" fill="#7bccc4" stroke="#62a59e" stroke-width="0.5"/>
<polygon points="391.88,219.75 395,217.5 396.25,220.62 393.12,221.5 391.88,220.62" fill="#7bccc4" stroke="#62a59e" stroke-width="0.5"/>
<polygon points="393.12,221.5 396.25,220.62 395,217.5 397.5,216.25 397.5,218.75 400.62,220.25 402.5,220.25 403.75,224.38 404.38,228.12 406.88,229.38 409.38,228.12 410.62,229.38 412.5,231.88 416.25,231.25 420.62,230 422.5,231.25 425,235 416.25,250 405,250 402.5,231.25 397.5,226.88 395,223.75" fill="url(#nd)" stroke="#cbcbcb" stroke-width="0.5"/>
<polygon points="397.5,216.25 401.25,215.25 406.25,214.38 408.75,214 408.12,216.88 405,219.38 400.62,220.25 397.5,218.75" fill="#0868ac" stroke="#0a568c" stroke-width="0.5"/>
<polygon points="402.5,220.25 405.62,219.75 408.12,222.5 410,225.62 409.38,228.12 406.88,229.38 404.38,228.12 403.75,224.38" fill="#bae4bc" stroke="#97bb99" stroke-width="0.5"/>
<polygon points="402.25,227.25 404.38,228.12 404.75,229.75 402.5,229.75" fill="#43a2ca" stroke="#3785a6" stroke-width="0.5"/>
<polygon points="408.75,216.88 408.12,216.88 408.75,214 412.5,215.25 417.5,215 421.25,217.5 422.5,221.88 425,222.5 424.38,225 420,224.38 415,225.25 411.25,224.75 408.75,222.5 406.25,220" fill="#f0f9e8" stroke="#c3ccbc" stroke-width="0.5"/>
<polygon points="410.62,226 411.25,224.75 415,225.25 420,224.38 424.38,225 422.5,227.5 421.25,230 416.25,231.25 412.5,231.88 410.62,229.38 409.75,228.12" fill="#43a2ca" stroke="#3785a6" stroke-width="0.5"/>
<polygon points="408.75,210 410,206.88 416.25,205.62 422.5,206.25 426.25,204.38 431.25,205 422.5,205.62 428.12,204.38 431.88,206.88 437.5,208.75 443.12,210.62 443.75,213.75 441.25,216.88 443.12,218.75 440,221.25 437.5,223.12 433.12,223.75 431.88,220 428.12,218.75 425.62,219.38 423.75,220.62 421.88,219.38 420,216.25 417.5,214.38 413.75,214.38 410.62,213.75 412.5,215.25 408.75,214 408.12,212.25" fill="#7bccc4" stroke="#62a59e" stroke-width="0.5"/>
<polygon points="420,216 422.25,217.5 423.75,220.62 421.88,219.75 421,217.75" fill="#7bccc4" stroke="#62a59e" stroke-width="0.5"/>
<polygon points="376.88,188.75 385,188.75 385,197.5 380.62,197.75 379,196.25 376.88,195" fill="#f0f9e8" stroke="#c3ccbc" stroke-width="0.5"/>
<polygon points="400,164.38 401.88,165.62 403.12,168.75 402.5,171.88 397.5,173.12 396.25,178.12 397.5,184.38 396.25,190 393.75,195 389.38,198.12 385,198.12 383.12,195 385,190.62 383.75,187.5 385,185 385.62,181.25 385,178.12 386.88,176.25 388.12,173.12 390,170 392.5,167.5 396.25,165.62" fill="#f0f9e8" stroke="#c3ccbc" stroke-width="0.5"/>
<polygon points="401.88,165.62 403.75,164.38 406.25,163.5 408.12,161.88 410,162.75 412.5,166.25 413.75,170 415,173.75 416.88,176.88 419.38,179.38 416.88,182.5 416.5,185.62 409.38,186 403.75,185 400.62,180 402.5,176.25 406.25,173.75 404.38,171.88 402.5,171.88 403.12,168.75" fill="#43a2ca" stroke="#3785a6" stroke-width="0.5"/>
<polygon points="401.25,192.5 405.62,190.62 408.12,191 412.5,191.25 415.62,191.88 415.62,194.38 411.25,194 407.5,194.38 403.75,194.75 401.25,195" fill="url(#nd)" stroke="#cbcbcb" stroke-width="0.5"/>
<polygon points="401.88,195 403.75,194.75 407.5,194.38 411.25,194 415,195 413.75,198.12 410.62,200 406.88,198.75 404.38,197.75 401.88,198.12" fill="#43a2ca" stroke="#3785a6" stroke-width="0.5"/>
<polygon points="421,231 430,228 445,228 450.6,230 453,232 455.5,233.4 457,235.3 459,237.1 462.25,238.4 464,237 468,235 476,238 478,241.25 482.5,241.25 487.5,240.6 492.5,243.1 494.4,244.4 496.25,247.5 495.62,252.5 497.5,256.88 499.38,261.88 501.25,264.38 503.12,268.12 503.75,271.25 501.25,273.75 503,276 506,312 450,312 428,268 436,250 415,250 415,233" fill="url(#nd)" stroke="#cbcbcb" stroke-width="0.5"/>
<polygon points="440.88,262.88 442.38,262.88 444.63,261.75 446.5,260.25 445.75,258.38 446.5,256.88 449.13,255.38 451.25,256.25 456.25,258.75 461.25,261.88 466.25,263.75 468.75,265 471.25,267.5 473.75,270.62 475.62,273.75 477.25,275 479.38,277.25 480,280 486.25,280.88 487.75,280.62 488.12,284.38 486.25,287.5 481.88,289.38 476.88,291.25 471.88,292.5 468.75,295 465,294.38 461.25,294.38 459.38,295 456.88,291.88 453.75,287.5 450.62,282.5 447.5,277.5 444.38,272.5 441.88,267.5 442.15,267.75 440.88,265.5" fill="#f0f9e8" stroke="#c3ccbc" stroke-width="0.5"/>
<polygon points="479.38,277.25 480.62,277.75 483.75,277.12 486.5,275.25 487.75,273.75 488.75,272.25 490,275 489,278.12 487.75,280.62 486.25,280.88 480,280" fill="#43a2ca" stroke="#3785a6" stroke-width="0.5"/>
<polygon points="476.88,271.88 478.5,271.88 478.75,275.62 477.25,275.25" fill="#0868ac" stroke="#0a568c" stroke-width="0.5"/>
<polygon points="440.88,255.38 443.5,254.63 446.13,253.88 447.63,252.75 449.13,255.38 446.5,256.88 445.75,258.38 446.5,260.25 444.63,261.75 442.38,262.88 440.88,262.88 440.65,262.5 441.25,259.5" fill="#0868ac" stroke="#0a568c" stroke-width="0.5"/>
<polygon points="440.88,249.38 442.38,249 441.63,251.25 440.5,252.75" fill="#43a2ca" stroke="#3785a6" stroke-width="0.5"/>
<polyline points="481.88,289.38 481.25,292.5 482.5,296.88" fill="none" stroke="#c2c2c2" stroke-width="0.45"/>
<polyline points="487.75,280.62 488.12,284.38 486.25,287.5 481.88,289.38" fill="none" stroke="#c2c2c2" stroke-width="0.45"/>
<polyline points="441.88,243.12 447.5,243.75 452.5,243.12 456.88,241.88 459.38,240" fill="none" stroke="#c2c2c2" stroke-width="0.45"/>
<polyline points="456.88,241.88 455,246.25 452.5,250 449.38,255.62" fill="none" stroke="#c2c2c2" stroke-width="0.45"/>
<polyline points="441.25,255 443.5,254.63" fill="none" stroke="#c2c2c2" stroke-width="0.45"/>
<polyline points="459.38,240 461.25,243.75 460.62,248.12 463.75,251.25 465.62,255.62 468.12,258.75" fill="none" stroke="#c2c2c2" stroke-width="0.45"/>
<polyline points="451.25,256.25 456.25,258.75 461.25,261.88 466.25,263.75 466.5,260.62" fill="none" stroke="#c2c2c2" stroke-width="0.45"/>
<polyline points="458.75,235 460,237.5 459.38,240" fill="none" stroke="#c2c2c2" stroke-width="0.45"/>
<polyline points="440.5,252.75 441.25,255 440.88,255.38 441.25,259.5 440.65,262.5" fill="none" stroke="#c2c2c2" stroke-width="0.45"/>
<polygon points="456.88,210.62 459.38,207.5 462.5,205.62 467.5,205 471.88,205.62 476.88,206.88 481.88,207.5 484.38,206.25 483.12,203.12 481.88,200.62 485.62,198.75 491.25,197.5 496.88,196 500.62,198.75 505,200 508.75,200.62 511.25,198.75 515,201.88 518.12,204.38 522.5,206.88 527.5,206.88 532.5,209.38 538.75,211.25 537.5,215 533.75,216.88 532.5,221.25 530,223.12 532.5,226.25 530,228.12 525,226.88 520,227.5 515,228.12 511.25,229.38 508.12,231.88 505.62,230.62 502.5,228.12 500,226.25 496.25,226.25 492.5,225 488.75,223.12 485,221.88 481.25,221.25 478.75,223.12 479.38,226.88 480,230 476.88,228.75 474.38,229.38 471.25,233.12 466.25,230.62 462.5,225 460.62,217.5 457.5,213.75" fill="#43a2ca" stroke="#3785a6" stroke-width="0.5"/>
<polygon points="476.88,228.75 480,230 480.62,231.88 483.12,231.25 486.25,229.38 488.75,228.12 491.88,229.38 495.62,231.25 499.38,233.75 502.5,236.25 505.62,238.12 503.75,241.25 500,243.12 497.5,245.62 493.75,246.25 490,243.75 486.25,241.88 482.5,241.25 479.38,240.62 473.75,240.62 470.62,233.75 474.38,229.38" fill="#43a2ca" stroke="#3785a6" stroke-width="0.5"/>
<polygon points="497.5,245.62 500,243.12 503.75,241.25 505.62,238.12 508.75,238.75 509.38,240 511.25,242.5 513.75,241.88 516.25,240 520,241.25 523.12,240 526.25,241.25 518.12,245 517.5,248.75 516.25,251.88 513.75,255 511.88,258.12 509.38,259.38 508.12,262.5 504.38,263.12 501.25,264.38 499.38,261.88 497.5,256.88 495.62,252.5 496.25,247.5" fill="#43a2ca" stroke="#3785a6" stroke-width="0.5"/>
<polygon points="526.25,241.25 530,242.5 532.5,246.25 531.25,247.5 528.75,249.38 525,250.62 526.88,253.75 528.12,256.88 526.25,260 524.38,263.12 521.88,266.25 519.38,268.12 520.62,271.25 522.5,275 520,276.25 517.5,277.5 516.25,282.5 500,278.75 501.25,273.75 503.75,271.25 503.12,268.12 501.25,264.38 504.38,263.12 508.12,262.5 509.38,259.38 511.88,258.12 513.75,255 516.25,251.88 517.5,248.75 518.12,245" fill="#43a2ca" stroke="#3785a6" stroke-width="0.5"/>
<polygon points="541.25,261.88 543.75,260.62 547.5,262.5 552.5,265 557.5,266.88 560,267.75 559.38,270.62 555,270 550,268.12 545,266.25 541.88,264.75" fill="#f0f9e8" stroke="#c3ccbc" stroke-width="0.5"/>
<polygon points="561.88,267.25 565,266.25 568.12,267.25 567.5,269.38 563.75,269.75" fill="url(#nd)" stroke="#cbcbcb" stroke-width="0.5"/>
<polygon points="561.25,271.25 563.75,270.62 567.5,271.5 569,274.38 568.12,278.12 570,280.62 569,283.75 566.25,284.38 563.75,284.38 563.12,279.38 561.88,275.62" fill="#f0f9e8" stroke="#c3ccbc" stroke-width="0.5"/>
<polygon points="575.62,271.25 577.5,268.12 580,266.25 582.5,267.5 583.12,271.25 584.38,275.62 586.88,279.38 590,281.88 591.25,284.38 592.75,286.88 590.62,286.88 588.12,287.5 585,291.25 585,293.75 586.25,296.88 588.12,300 589.75,303.12 590,306.25 589.38,310.62 586.88,310 585,305 582.5,300.62 578.75,300.62 575,296.25 571.88,288.75 570,283.12 571.88,281.88 573.12,278.75 574.38,275" fill="#f0f9e8" stroke="#c3ccbc" stroke-width="0.5"/>
<polygon points="585,291.25 588.12,287.5 590.62,286.88 592.5,290 593.12,293.12 597.5,292.5 601.25,294.38 603.5,298.12 604.38,301.88 600,302.5 597.5,304.38 596.88,306.88 596.25,309.38 592.5,307.5 592.75,313.75 595,318.12 596.88,321.88 593.75,322.5 590.62,320 586.25,317.5 586.25,310 586.88,310 589.38,310.62 590,306.25 589.75,303.12 588.12,300 586.25,296.88 585,293.75" fill="#43a2ca" stroke="#3785a6" stroke-width="0.5"/>
<polygon points="591.25,284.38 593.12,283.12 595.62,281.88 597.5,283.75 598.75,286.25 600,289.38 602.5,293.75 605.62,298.12 608.12,301.88 606.25,302.5 604.38,301.88 603.5,298.12 601.25,294.38 597.5,292.5 593.12,293.12 592.5,290 592.75,286.88" fill="#f0f9e8" stroke="#c3ccbc" stroke-width="0.5"/>
<polygon points="597.5,304.38 600,302.5 604.38,301.88 606.25,302.5 608.12,301.88 609,305.62 608.12,308.12 605.62,310 603.12,313.75 600,312.5 597.5,310 596.88,306.88" fill="#43a2ca" stroke="#3785a6" stroke-width="0.5"/>
<polygon points="597.5,281.88 600.62,280 603.75,280.62 607.5,281.88 612.5,296.25 617.5,305 613.75,313.75 605,320 601.25,315 603.12,313.75 605.62,310 608.12,308.12 609,305.62 608.12,301.88 605.62,298.12 602.5,293.75 600,289.38 598.75,286.25 597.5,283.75" fill="url(#nd)" stroke="#cbcbcb" stroke-width="0.5"/>
<polygon points="593.75,322.5 596.88,321.88 599.38,325 601.88,328.75 603.12,333.12 603.75,336.25 606.25,338.75 601.25,340 596.88,333.75 592.5,327.5 590,322.5" fill="#43a2ca" stroke="#3785a6" stroke-width="0.5"/>
<polygon points="638.12,228.75 641.25,230 640,233.75 637.5,239.75 635,240.62 633.12,240.62 630.62,240 630,237.5 628.12,236.25 630,233.75 633.12,231.25 636.25,229.38" fill="url(#nd)" stroke="#cbcbcb" stroke-width="0.5"/>
</g>
<polygon points="421.5,231.88 422.25,227.5 423.12,224.38 423.75,221.25 425.62,219.38 428.12,218.75 431.25,220 434.38,218.75 433.12,220.62 433.12,222.5 435.62,223.38 438.12,221.88 440,220.62 437.5,218.75 440,217.5 441.88,217.12 443.12,218.75 446.25,222.5 450,226.25 452.5,228.75 455,231 453.75,232.75 450,231.88 445,231.25 438.75,230.62 432.5,231.25 427.5,232.75 423.75,231.25" fill="#ffffff" stroke="#dcdcdc" stroke-width="0.5"/>
<polygon points="460,223.12 463.12,220 467.5,218.12 471.88,218.75 470,221.88 467.5,223.75 466.88,226.88 470,230 473.75,231.88 476.88,230.62 478.12,233.12 475.62,233.75 476.88,237.5 478.12,241.25 475,243.12 470.62,241.88 466.25,240 463.12,236.25 465,233.75 463.12,230.62 461.25,226.88" fill="#ffffff" stroke="#dcdcdc" stroke-width="0.5"/>
<polygon points="619,399 625,395 632,392 639,389 643,384 648,380 653,377 658,376 662,372 667,369.6 672,371 676,372 675,376 673,379.6 677,382.4 682,385.6 685,383 687,377 689,370 690.4,368 692,374 694,380 695.6,386 699,391 702,397 705,403 706,408 704,414 702,419 699,424 695,429 691,433 687,437 682,440 677,441.6 673,440 668,438 664.4,435 663.6,431 661,430 663,427 659,429 656,425 651,423 646,423 640,425 636,427 631,428 625,429 620,431 616,430 614,427 617,423 618,417 617,411 618,405" fill="#43a2ca" stroke="#3785a6" stroke-width="0.5"/>
<polygon points="668,447 673,446 677,447 674.4,451 670,453.6 667.6,451" fill="#43a2ca" stroke="#3785a6" stroke-width="0.5"/>
<polygon points="739,430 741,431 741.6,435 746,438 743.6,440 740,442 737,445 734,448 732.4,445.6 736,442.4 738,439 739,435" fill="#0868ac" stroke="#0a568c" stroke-width="0.5"/>
<polygon points="705.6,459 711,455 717,452 723,449 729,446 732,447 728,451 722,454 716,457 711,460 707,461" fill="#0868ac" stroke="#0a568c" stroke-width="0.5"/>
<polygon points="734,392.4 738,395 740,398 738.4,398.4 735,395.6" fill="url(#nd)" stroke="#cbcbcb" stroke-width="0.5"/>
<polygon points="664.38,342.75 667.5,341.25 671.88,341.25 673.12,344.38 672.5,346.88 675.62,346.25 679.38,344.38 683.12,344.38 688.12,346.5 687.25,353.75 686.88,363.12 683.75,361.88 680,361.25 681.88,359.38 683.12,356.88 681.25,353.75 678.12,350.62 674.38,350 671.25,348.75 669.38,350 668.75,347.5 670,345.62 666.88,344.38" fill="#0868ac" stroke="#0a568c" stroke-width="0.5"/>
<polygon points="688.12,346.5 692.5,348.12 696.88,350.62 700,353.75 703.12,356.25 701.25,358.12 703.75,361.25 706.88,365 708.75,366.88 706.25,367.5 702.5,365.62 699.38,362.5 696.88,360 693.75,361.25 691.25,363.75 686.88,363.12 687.25,353.75" fill="#43a2ca" stroke="#3785a6" stroke-width="0.5"/>
<polygon points="704.38,354.38 707.5,353.75 711.25,352.5 713.75,350 712.5,347.25 711.25,346.25 715,348.75 715.62,351.88 712.5,354.38 708.75,356 705.62,356" fill="#43a2ca" stroke="#3785a6" stroke-width="0.5"/>
<polygon points="718.75,353.12 720,353.75 721.88,357.25 720.62,357.75 719,355" fill="#43a2ca" stroke="#3785a6" stroke-width="0.5"/>
<polygon points="723.75,358.12 726.25,359 726.5,360 724.38,359.38" fill="url(#nd)" stroke="#cbcbcb" stroke-width="0.5"/>
<polygon points="728.12,360.62 731.25,361.88 731.88,363.5 729,362.5" fill="url(#nd)" stroke="#cbcbcb" stroke-width="0.5"/>
<polygon points="732.5,365 735,366.88 735.62,368.5 733.5,367.5" fill="url(#nd)" stroke="#cbcbcb" stroke-width="0.5"/>
<polygon points="730,364.38 731.88,365 731.25,366" fill="url(#nd)" stroke="#cbcbcb" stroke-width="0.5"/>
<polygon points="743.12,378.12 744.38,378.5 745.62,382.5 744,382.25" fill="#bae4bc" stroke="#97bb99" stroke-width="0.5"/>
<polygon points="656.88,334.38 658.75,335 659.75,338.12 658.75,341.25 657.5,339.38" fill="#0868ac" stroke="#0a568c" stroke-width="0.5"/>
<polygon points="653.12,348.12 655.62,348.5 655,349.75 653.5,349.5" fill="#0868ac" stroke="#0a568c" stroke-width="0.5"/>
<polygon points="658.12,347.25 662.5,347.25 664.38,348.75 661.25,349 658.5,348.5" fill="#0868ac" stroke="#0a568c" stroke-width="0.5"/>
<polygon points="672.25,354.38 673.25,354.75 673,357.5 672,357.25" fill="#0868ac" stroke="#0a568c" stroke-width="0.5"/>
<polygon points="582.5,326 586.25,325.62 590,328.75 594.38,333.12 598.12,336.88 601.88,340.62 604.38,344.38 606.88,347.5 607.25,352.5 606.25,355.62 603.12,353.75 599.38,350 596.25,346.25 593.75,341.88 591.25,336.88 588.12,332.5 585,328.75" fill="#0868ac" stroke="#0a568c" stroke-width="0.5"/>
<polygon points="605.62,356.88 608.75,355.62 613.12,356.88 617.5,357.25 622.5,359 626.25,360 628.75,361.25 626.88,362.5 622.5,361.88 618.12,360.62 613.75,360 609.38,359.38 606.5,358.5" fill="#0868ac" stroke="#0a568c" stroke-width="0.5"/>
<polygon points="631.25,362.5 634.38,361.25 636.88,361.88 635,363.5 631.88,363.75" fill="#0868ac" stroke="#0a568c" stroke-width="0.5"/>
<polygon points="638.12,361.88 641.88,361 645.62,361 644.38,362.5 640,363.12" fill="#0868ac" stroke="#0a568c" stroke-width="0.5"/>
<polygon points="636.88,364.38 640,365 640.62,366.25 638.12,366" fill="#0868ac" stroke="#0a568c" stroke-width="0.5"/>
<polygon points="646.25,365.62 649.38,363.12 651.25,362.5 650,364.38 647.5,366.5" fill="#0868ac" stroke="#0a568c" stroke-width="0.5"/>
<polygon points="651.25,362.5 655.62,361 656,362.25 652.5,363.75 650,364.38" fill="url(#nd)" stroke="#cbcbcb" stroke-width="0.5"/>
<polygon points="614.38,336.88 616.25,335 619.38,334.38 622.5,331.88 626.25,328.75 628.75,326.25 631.25,321.88 633.12,322.5 637.5,325.62 636.25,327.5 634.38,330 635,334.38 636.88,336.88 635,338.12 633.75,341.25 632.5,344.38 631.25,347.5 630,350 626.88,349.75 623.75,348.12 620,348.12 617.5,346.88 616.88,343.75 615.25,340.62" fill="#0868ac" stroke="#0a568c" stroke-width="0.5"/>
<polygon points="616.25,335 619.38,334.38 622.5,331.88 626.25,328.75 628.75,326.25 631.25,321.88 633.12,322.5 637.5,325.62 636.25,327.5 634.38,330 631.88,328.75 630,330.62 628.12,333.75 625.62,335 622.5,335.62 619.38,336.88 617.25,338.12 615.62,336.88" fill="#43a2ca" stroke="#3785a6" stroke-width="0.5"/>
<polygon points="638.12,347.5 640,342.5 641.88,338.12 645,336.88 650,336.25 651.88,335.62 651.25,337.5 647.5,338.5 644.38,339.38 643.12,341.88 646.25,342.5 648.12,341.88 646.88,344.38 643.75,345 645,348.75 646.25,352.5 644.38,353.75 642.5,350 641.25,347.5 640.62,351.25 640,354.38 638.12,353.75 637.5,350" fill="#0868ac" stroke="#0a568c" stroke-width="0.5"/>
<polygon points="637,292 639,291.2 641,291.8 641.5,295 640.8,298.5 641.5,301.5 643.5,303 646,303.5 646.8,305.5 648.5,307 650.5,308 651.2,310 650,310.5 648.5,309 646.5,307.5 644.5,306.5 642.5,305 640.5,304.5 639,303 638,300 636.8,298.5 637.2,295" fill="#0868ac" stroke="#0a568c" stroke-width="0.5"/>
<polygon points="639,305 640.5,305.5 641,307.5 639.8,307" fill="#0868ac" stroke="#0a568c" stroke-width="0.5"/>
<polygon points="643,309.5 645,310 645.5,312 646.5,313 647.5,311.5 649,312 648.5,314.5 646.5,315 645,316 644.5,313.5 643.5,312" fill="#0868ac" stroke="#0a568c" stroke-width="0.5"/>
<polygon points="648.5,308.5 650.5,309.5 651.5,311.5 650.8,313.5 649.8,312.5 649.5,310.5" fill="#0868ac" stroke="#0a568c" stroke-width="0.5"/>
<polygon points="632.5,317.8 634.5,315 636.5,312 637.8,310.5 637.5,312.5 635.8,315 634,317.5" fill="#0868ac" stroke="#0a568c" stroke-width="0.5"/>
<polygon points="643.5,320.5 645,319 647.5,318 649.5,317.5 651,315.5 653,316.5 654,319.5 653.5,322.5 652,325 650.5,323.5 649.5,321.5 647.5,320 645.5,320.5 644.5,321.5" fill="#0868ac" stroke="#0a568c" stroke-width="0.5"/>
<polygon points="610,288.75 612.5,287.75 614.38,289 613.5,291.25 611,291.88" fill="#0868ac" stroke="#0a568c" stroke-width="0.5"/>
<polygon points="634.38,274.38 636.25,273.75 636.5,278.12 635.25,281.88 634,279.38" fill="url(#nd)" stroke="#cbcbcb" stroke-width="0.5"/>
<polygon points="546.5,314 549.5,315.5 551.5,319.5 550,323.5 547.5,323.5 546,319" fill="#0868ac" stroke="#0a568c" stroke-width="0.5"/>
<polygon points="638.75,199.38 641.25,200 645,205 649.38,209.38 653.75,211.88 653.12,213.12 655,216.25 657.5,218.75 655,218.12 652.5,215.62 650,211.88 646.25,208.12 642.5,203.75 640,201.25" fill="#0868ac" stroke="#0a568c" stroke-width="0.5"/>
<polygon points="655.62,221.88 658.75,223.12 662.5,225 666.25,225.62 665.62,227.5 663.12,228.75 660,230.62 657.5,230 656.25,227.5 656.88,225" fill="#0868ac" stroke="#0a568c" stroke-width="0.5"/>
<polygon points="659.38,231.88 662.5,233.75 665,236.88 666.25,241.25 668.12,246.25 666.25,248.75 662.5,250 660,251.25 657.5,250 655,250.62 652.5,251.25 650,251.25 648.12,252.5 650,250 652.5,248.12 656.25,247.5 657.5,244.38 660,242.5 661.88,238.75 661.25,235" fill="#0868ac" stroke="#0a568c" stroke-width="0.5"/>
<polygon points="646.88,253.12 649.38,251.88 651.25,253.75 651.88,257.5 650.62,258.75 648.75,255.62" fill="#0868ac" stroke="#0a568c" stroke-width="0.5"/>
<polygon points="653.12,251.88 656.88,251.25 656.25,253.12 653.75,253.75" fill="#0868ac" stroke="#0a568c" stroke-width="0.5"/>
<polygon points="446.88,158.12 448.75,153.12 452.5,150 458.75,148.75 466.88,147.75 467.25,149 461.25,150 455.62,151.88 453.12,155 453.75,158.12 456.88,160 453.12,160.62 449.38,160" fill="#0868ac" stroke="#0a568c" stroke-width="0.5"/>
<polygon points="493.75,141 497.5,140 503.75,141.5 508.12,143.12 505,144 500,143.12 495.62,142.25" fill="#0868ac" stroke="#0a568c" stroke-width="0.5"/>
<polygon points="510,143.12 515,143.75 517.5,145 513.75,145.62 510.62,144.75" fill="#0868ac" stroke="#0a568c" stroke-width="0.5"/>
<polygon points="573.75,149.38 580,149 586.25,150 588.75,151.25 583.75,152.25 578.12,151.88" fill="#0868ac" stroke="#0a568c" stroke-width="0.5"/>
<polygon points="589.38,150.62 595,151 596.88,152.25 592.5,152.25" fill="#0868ac" stroke="#0a568c" stroke-width="0.5"/>
<polygon points="655.25,159 657.5,159.75 656.88,160.62" fill="#0868ac" stroke="#0a568c" stroke-width="0.5"/>
<polygon points="378.12,142.5 385,141.5 391.25,141.25 401.25,141.5 400,143.12 395,143.75 391.25,146.25 387.5,148.12 383.75,146.88 380,144.38" fill="#0868ac" stroke="#0a568c" stroke-width="0.5"/>
<polygon points="394.38,145.62 398.12,145.25 397.5,146.5" fill="#0868ac" stroke="#0a568c" stroke-width="0.5"/>
<polygon points="426.88,140.62 431.88,140 435.62,140.62 432.5,141.88 428.12,141.5" fill="#0868ac" stroke="#0a568c" stroke-width="0.5"/>
<polygon points="352.5,191.88 353.75,188.75 356.88,188.5 358.75,190 357.5,193.12 360,195 361.25,198.75 363.75,201.25 365.62,203.75 365,206.25 361.88,206.88 357.5,207.75 353.12,209 351.88,208.12 355,205.62 353.75,203.75 355.62,201.88 353.75,200 355,196.88 353.12,195" fill="#0868ac" stroke="#0a568c" stroke-width="0.5"/>
<polygon points="343.75,201.88 345.62,198.75 348.12,197.5 348.12,200 350.62,200.62 350,203.75 346.88,205.62 344,204.75" fill="url(#nd)" stroke="#cbcbcb" stroke-width="0.5"/>
<polygon points="348.12,198.12 350.62,196.88 351.88,198.75 349.75,200 348.12,200" fill="#0868ac" stroke="#0a568c" stroke-width="0.5"/>
<polygon points="383.75,195 386.25,194.38 386,196.88 384,197.25" fill="#f0f9e8" stroke="#c3ccbc" stroke-width="0.5"/>
<polygon points="390,240.62 395.62,241.5 395,243.75 391.25,243.12" fill="#7bccc4" stroke="#62a59e" stroke-width="0.5"/>
<polygon points="380.25,233.12 383.12,232.5 383.12,236.88 381,237.5" fill="#7bccc4" stroke="#62a59e" stroke-width="0.5"/>
<polygon points="381.25,228.12 382.75,227.75 382.75,231.25 381.5,231.5" fill="#43a2ca" stroke="#3785a6" stroke-width="0.5"/>
<polygon points="433.12,248.12 437.5,246.88 436.88,248.75 433.75,249.38" fill="url(#nd)" stroke="#cbcbcb" stroke-width="0.5"/>
<polygon points="413.75,247.5 418.75,247.25 419.38,248.12 414.38,248.5" fill="url(#nd)" stroke="#cbcbcb" stroke-width="0.5"/>
<polygon points="8,285.5 10.5,286 11.5,289 9.5,290.5 7.5,288" fill="#43a2ca" stroke="#3785a6" stroke-width="0.5"/>
<polygon points="4.5,283.5 6.5,283.8 6.8,285 5,285" fill="#43a2ca" stroke="#3785a6" stroke-width="0.5"/>
<polygon points="2,282 3.5,282.3 3.5,283.3 2,283" fill="#43a2ca" stroke="#3785a6" stroke-width="0.5"/>
<polygon points="221.88,292.62 222.62,292.62 222.62,293.62 221.88,293.62" fill="url(#nd)" stroke="#cbcbcb" stroke-width="0.5"/>
<polygon points="222.12,294.5 222.88,294.5 222.88,295.5 222.12,295.5" fill="url(#nd)" stroke="#cbcbcb" stroke-width="0.5"/>
<polygon points="222.38,298.88 223.12,298.88 223.12,299.88 222.38,299.88" fill="url(#nd)" stroke="#cbcbcb" stroke-width="0.5"/>
<polygon points="223.12,303 223.88,303 223.88,304 223.12,304" fill="#0868ac" stroke="#0a568c" stroke-width="0.5"/>
<polygon points="225.88,305.12 226.62,305.12 226.62,306.12 225.88,306.12" fill="#0868ac" stroke="#0a568c" stroke-width="0.5"/>
<polygon points="221.5,307.62 222.25,307.62 222.25,308.62 221.5,308.62" fill="url(#nd)" stroke="#cbcbcb" stroke-width="0.5"/>
<polygon points="222.25,296.75 223,296.75 223,297.75 222.25,297.75" fill="url(#nd)" stroke="#cbcbcb" stroke-width="0.5"/>
<polygon points="222.75,301 223.5,301 223.5,302 222.75,302" fill="url(#nd)" stroke="#cbcbcb" stroke-width="0.5"/>
<g mask="url(#clipAF)">
<polyline points="342.99,267.99 342.99,275.45 335.52,276.38 333.66,283.84 325.26,284.4" fill="none" stroke="#c2c2c2" stroke-width="0.45"/>
<polyline points="343.92,267.99 348.58,273.58 350.45,299.7 337.39,299.7 333.66,296.9 324.33,295.97" fill="none" stroke="#c2c2c2" stroke-width="0.45"/>
<polyline points="333.66,296.9 335.52,306.23 326.19,308.1" fill="none" stroke="#c2c2c2" stroke-width="0.45"/>
<polyline points="335.52,306.23 342.99,311.83 344.85,316.49 342.99,320.22" fill="none" stroke="#c2c2c2" stroke-width="0.45"/>
<polyline points="332.72,314.63 337.39,313.69 339.25,319.29" fill="none" stroke="#c2c2c2" stroke-width="0.45"/>
<polyline points="350.45,299.7 351.38,303.43" fill="none" stroke="#c2c2c2" stroke-width="0.45"/>
<polyline points="370.97,289.44 372.84,295.97 368.17,299.7 364.44,301.57" fill="none" stroke="#c2c2c2" stroke-width="0.45"/>
<polyline points="389.63,279.55 397.09,279.55 419.48,288.13" fill="none" stroke="#c2c2c2" stroke-width="0.45"/>
<polyline points="397.09,279.55 398.02,297.84 395.22,306.23" fill="none" stroke="#c2c2c2" stroke-width="0.45"/>
<polyline points="372.84,305.3 378.43,303.81 385.9,304.93 393.36,303.43 396.16,306.23 398.02,314.63" fill="none" stroke="#c2c2c2" stroke-width="0.45"/>
<polyline points="395.22,320.22 404.55,314.63 415.75,309.96" fill="none" stroke="#c2c2c2" stroke-width="0.45"/>
<polyline points="399.89,327.69 406.42,325.82 415.75,322.09 423.21,323.02 430.67,324.89" fill="none" stroke="#c2c2c2" stroke-width="0.45"/>
<polyline points="419.48,316.49 426.94,323.96 432.54,329.55" fill="none" stroke="#c2c2c2" stroke-width="0.45"/>
<polyline points="384.96,333.28 389.63,337.01 393.36,335.15 395.22,340.75" fill="none" stroke="#c2c2c2" stroke-width="0.45"/>
<polyline points="384.96,334.22 388.69,334.22 388.69,337.01 384.96,337.01" fill="none" stroke="#c2c2c2" stroke-width="0.45"/>
<polyline points="399.89,327.69 398.96,337.01 395.22,346.34 391.49,350.07" fill="none" stroke="#c2c2c2" stroke-width="0.45"/>
<polyline points="384.03,255.86 386.83,260.52 385.9,265.19" fill="none" stroke="#c2c2c2" stroke-width="0.45"/>
<polyline points="385,335 391,334 393,340 397,341 398,346 393,350 389,348" fill="none" stroke="#c2c2c2" stroke-width="0.45"/>
<polyline points="406,328 404,336 401,344 397,350 393,353" fill="none" stroke="#c2c2c2" stroke-width="0.45"/>
<polyline points="392,357 400,357 402,362 412,363 413,370 418,370" fill="none" stroke="#c2c2c2" stroke-width="0.45"/>
<polyline points="413,370 414,380 417,384" fill="none" stroke="#c2c2c2" stroke-width="0.45"/>
<polyline points="432,337 431,346 430,353 429.4,360 430,361.6" fill="none" stroke="#c2c2c2" stroke-width="0.45"/>
<polyline points="431,350 433.4,350.4 433,353.6 430.6,353" fill="none" stroke="#c2c2c2" stroke-width="0.45"/>
</g>
<g mask="url(#clipEUR)">
<polyline points="539.38,211.88 543.75,208.75 547.5,207.5 552.5,208.75 556.88,210 558.12,205.62 561.25,205 566.25,206.88 570,209.38 575,208.75 580,210.62 585,211.88 591.25,210 595,208.75 598.12,210.62 597.5,214.38 601.25,215 606.25,216.25 607.5,218.12 603.75,220 599.38,221.88 595,223.12 593.75,226.88 590,228.75 585,231.25 580,230.62 575,228.75 568.75,228.12 563.75,227.5 560,225 555,222.5 550.62,221.25 548.75,218.12 545.62,215 541.25,213.75 539.38,211.88" fill="none" stroke="rgba(20,40,60,0.45)" stroke-width="0.45"/>
<polyline points="598.12,210.62 599.38,206.88 598.75,203.12 601.88,201.25 607.5,201.25 612.5,204.38 617.5,208.75 622.5,211.88 627.5,213.75 615,205 620,208.75 625,211.25 630,213.75 633.75,215 636.25,213.75 636.88,216.88 637.5,221.25 635,222.5 636.25,226.25 638.12,228.75" fill="none" stroke="rgba(20,40,60,0.45)" stroke-width="0.45"/>
<polyline points="530,246.88 533.75,248.75 535.62,253.75 537.5,258.12 541.88,260.62" fill="none" stroke="rgba(20,40,60,0.45)" stroke-width="0.45"/>
<polyline points="568.12,267.25 571.25,264.38 575,263.12 578.75,264.38" fill="none" stroke="rgba(20,40,60,0.45)" stroke-width="0.45"/>
<polyline points="511.25,229.38 515,228.12 520,227.5 525,226.88 530,228.12 527.5,230.62 523.75,232.5 520,234.38 516.25,235 512.5,235 510,235 511.88,232.5 515,231.25 517.5,229.38 515,228.12" fill="none" stroke="rgba(20,40,60,0.45)" stroke-width="0.45"/>
<polyline points="507.5,236.25 510,235 512.5,235 516.25,235 520,234.38 521.25,237.5 523.12,240 520,241.25 516.25,240 513.75,241.88 511.25,242.5 509.38,240 508.75,238.75 507.5,236.25" fill="none" stroke="rgba(20,40,60,0.45)" stroke-width="0.45"/>
<polyline points="391.25,200.62 390.62,205 391.25,207.5 390,209.38 388.75,209.38" fill="none" stroke="rgba(20,40,60,0.45)" stroke-width="0.45"/>
<polyline points="408.75,200 409.75,203.12 410,206.88" fill="none" stroke="rgba(20,40,60,0.45)" stroke-width="0.45"/>
<polyline points="403.75,197.5 408.75,200 411.25,199.75" fill="none" stroke="rgba(20,40,60,0.45)" stroke-width="0.45"/>
<polyline points="414.38,197.5 417.5,195.62 422.5,195.62 425,198.75 426.88,201.25 425,204.38 426.25,204.38" fill="none" stroke="rgba(20,40,60,0.45)" stroke-width="0.45"/>
<polyline points="415,186.25 415.62,190.62" fill="none" stroke="rgba(20,40,60,0.45)" stroke-width="0.45"/>
<polyline points="413.75,163.75 416.25,162.25" fill="none" stroke="rgba(20,40,60,0.45)" stroke-width="0.45"/>
<polyline points="450.6,230 454,229.5 458,230.5 462,231.5 464.5,232.5" fill="none" stroke="rgba(20,40,60,0.45)" stroke-width="0.45"/>
<polyline points="456,233.5 459,233 462,234.5" fill="none" stroke="rgba(20,40,60,0.45)" stroke-width="0.45"/>
</g>
<polyline points="111.25,211.5 137.5,211.75 162.5,212 173,212.25" fill="none" stroke="rgba(20,40,60,0.45)" stroke-width="0.45"/>
<polygon points="766.5,385 769,384.3 770.5,386 768.5,387.8 766.3,387" fill="#0868ac" stroke="#0a568c" stroke-width="0.5"/>
<polygon points="770.5,382.5 773.5,381.2 774,382.3 771.5,383.8" fill="#0868ac" stroke="#0a568c" stroke-width="0.5"/>
<polygon points="304.75,294.75 305.75,294.75 305.75,295.75 304.75,295.75" fill="#0868ac" stroke="#0a568c" stroke-width="0.5"/>
<polygon points="306.85,295.9 307.85,295.9 307.85,296.9 306.85,296.9" fill="#0868ac" stroke="#0a568c" stroke-width="0.5"/>
<polygon points="310,296.75 311,296.75 311,297.75 310,297.75" fill="#0868ac" stroke="#0a568c" stroke-width="0.5"/>
<polygon points="308.25,300 309.25,300 309.25,301 308.25,301" fill="#0868ac" stroke="#0a568c" stroke-width="0.5"/>
<g mask="url(#clipAF)">
<polygon points="324.5,304.2 329.5,304.4 329.5,305.3 324.5,305.2" fill="#bae4bc" stroke="#97bb99" stroke-width="0.5"/>
</g>
<polygon points="492.3,392.3 493.7,392.3 493.7,393.7 492.3,393.7" fill="#0868ac" stroke="#0a568c" stroke-width="0.5"/>
<polygon points="462,370 463.5,370 463.5,371 462,371" fill="url(#nd)" stroke="#cbcbcb" stroke-width="0.5"/>
<polygon points="185,318 187.5,314.5 191.25,311.25 196.25,308.75 199,307.5 201.5,309 203.5,310 206,311.5 209,312.5 212,313 215,312.5 218,312 221,313.5 223,315 224,316.5 225.5,318.5 228,320.5 230,322.5 231.5,324.5 233,324.25 236,324 239,324.5 242,326 244,328 245.5,330 247,333 248,336 250,339 254,341 258,343 265,345 271.25,346.25 276.25,348.75 280,351.25 282.5,355 283,360 281.25,365 277.5,371.25 275.5,376.25 274.5,381.25 273.75,386.25 272.5,391.25 270,396.25 265,398.75 260,401.25 267.96,400 260.46,402.25 256.72,406 254.47,409.75 253.72,413.49 251.47,417.99 248.47,422.49 246.67,425.79 246.22,428.79 244.72,430.73 240.97,432.23 240.22,435.23 238.73,438.23 234.98,440.48 231.23,441.98 230.18,444.98 225.98,447.98 228.23,450.97 226.73,454.72 225.68,457.72 224.78,460.72 229.28,462.97 228.23,466.72 226.73,470.46 227.48,474.21 227.78,476.46 229.28,479.46 236.48,482.16 233.78,482.76 231.98,483.66 225.98,481.71 219.99,478.71 216.24,475.71 213.24,471.96 210.99,467.47 210.24,463.72 208.29,459.97 208.74,455.47 207.69,450.97 206.19,444.98 204.69,437.48 205.74,429.99 204.99,422.49 204.24,414.99 204.24,407.5 204.99,400 204.5,392.5 202.5,386.25 196.25,382.5 190,377.5 185,370 181.25,363.75 177,356.25 175.5,351.25 177,348.75 176.25,343.75 177.5,339.5 182,337 182.5,332.5 184.5,328.75 183.75,323.75" fill="none" stroke="rgba(90,90,90,0.3)" stroke-width="0.5"/>
<polygon points="350.62,246.88 355,247.5 358.75,248.12 362.5,246.25 367.5,244.38 373.75,243.75 380.62,243.12 383.75,242.5 385.62,244.38 384.38,247.5 386.25,250 385,252.5 386.25,255 392.5,256.25 400,255.5 406.25,253.75 410,256.25 415,257.5 418.75,257 421.75,257.4 426.25,258.38 430,257.63 433.75,258 437.5,258.75 439.75,257.1 440.35,259.5 440.65,262.5 439.38,266.63 438.4,264.75 436.75,262.5 434.88,261.9 436.38,264.38 438.63,267.38 440.5,271.5 442.75,276 444.63,279.75 445.75,282 446.88,285 448.12,288.75 449.38,292.5 450,296.25 452.5,299.38 457.5,298.75 460.62,303.75 461.88,306.88 461,309 463.12,310.62 467.5,311 472.5,310.62 476.88,309.38 480,308.75 479,313.12 476.25,318.75 472.5,324.38 468.12,330 463.75,335.62 460,340.62 458.75,343.75 456.88,346.25 455,349.38 453.5,351.88 453.12,355 454.38,358.75 453.75,362.5 455,366.88 455.62,367.5 456,371.25 455.62,367.5 456,372.5 455.62,377.5 453.75,381.88 450,385 446.25,388.12 442.5,391.25 441.25,394.38 443.12,397.5 442.5,401.88 440,404.38 436.88,406.25 436.88,408.12 435.62,411.25 433.12,415 430,420 426.25,423.75 421.88,426.88 417.5,428.12 412.5,428.75 406.88,430.62 403.12,428.75 402.5,423.75 401.25,418.75 400,414.38 398.12,410 396.25,403.75 394.38,397.5 392.5,391.88 390.62,388.12 389.75,385 390.62,380 391.88,375 393.12,370 393.75,365 390.62,378.75 392.5,373.75 393.75,368.75 393.12,365 391.88,360 392.5,356.25 391.25,353.12 388.75,350.62 386.25,347.5 384.38,343.75 383.75,340 384.38,337.5 385.62,333.12 384.38,330 383.12,326.25 380,328.12 376.25,327.5 373.75,324.38 370,323.75 365,324.75 361.25,326.25 357.5,327.25 353.75,326.5 348.75,327.5 345.62,328.5 343.12,326.88 340,323.75 336.88,320 333.75,316.88 331.25,313.75 327.5,310 325.62,306.25 323.75,302.5 323.5,300 324.38,296.25 325.62,292.5 324.75,288.75 324.38,285 325.62,281.25 327.5,277.5 330,273.75 332.5,270.62 334.38,267.75 338.12,265 340.62,261.88 341.25,258.12 343.75,254.38 347.5,250.62" fill="none" stroke="rgba(90,90,90,0.3)" stroke-width="0.5"/>
<polygon points="352.5,245 348.75,243.75 346.88,243.12 344,243.12 343.12,238.75 342.75,233.75 344.38,230 343.12,226.88 347.5,225.62 353.75,226.5 360,227.5 360.62,222.5 360,218.75 357.5,216.88 355,215.62 353.75,213.75 356.88,212.75 360,212.75 361.88,211.25 364.38,210 367.5,208.12 368.75,206.88 371.25,206.25 371.88,202.5 375,201.5 376.25,200.62 378.75,198.75 379,195.62 378.75,192.5 381.88,190.62 383.12,192.5 382.5,196.25 381.88,198.75 385,199.38 388.12,199.75 391.25,200.62 395,198.75 400,198.12 403.75,197.5 403.75,194.75 404.38,191.25 406.88,189.38 406.88,186.88 410,186.25 414.38,186.5 416.5,185 413.75,184 409.38,185 405.62,184.38 403.12,182.5 401.88,180 403.12,176.88 405.62,174.38 406.88,172.5 404.38,171.88 402.5,171.88 400,173.75 397.5,175.62 396.25,176.75 394.75,179.75 395.12,182.75 397,185 395.88,188 394,190.25 392.5,193.25 390.25,195.5 388,196.25 387.25,195 385.62,196.88 384.38,195 385,190.62 383.75,187.5 381.88,188.75 379.38,188.5 376.25,189.38 373.75,188.12 372.5,185 372.25,181.25 373.75,178.75 377.5,176.25 381.25,173.12 385,169.38 388.75,166.25 393.75,162.75 400,160.62 406.25,159.75 412.5,160.25 416.25,162.25 420,163.12 425,165 430,166.25 432.5,168.12 431.25,170.62 427.5,171.88 423.75,171.25 421.25,170 422.5,172.5 425,173.12 428.12,174.38 432.5,172.5 435,170.62 438.12,168.75 440,166.88 441.88,168.12 445,167.5 450,165.62 453.75,164.38 456.25,165.25 463.12,162.75 468.75,163.75 472.5,165 477.5,166.25 478.75,165 475,162.5 472.75,160 474.38,156.88 477.5,156.25 481.25,158.12 483.12,161.88 485.62,165.62 486.88,170 489.38,168.75 488.12,165.62 485.62,163.12 483.12,159.38 483.75,156.88 486.88,159.38 490,158.12 493.75,157.5 491.25,155 495,153.75 498.75,151.88 502.5,150.62 507.5,149.38 512.5,148.75 517.5,146.88 522.5,147.5 527.5,148.75 532.5,148.75 537.5,150 538.75,151.88 535.62,153.12 542.5,154 548.75,154.38 553.75,155.62 558.75,154.38 565,155 570,156.88 573.75,159.38 578.12,160 577.5,158.12 582.5,158.5 587.5,159.38 590,158.12 586.88,156.25 591.25,155.62 597.5,156.88 605,157.75 611.25,159.75 617.5,160 623.75,160.62 630,163.12 631.88,163.5 638.75,163.12 645,162.75 647.5,164.38 646.25,162.25 652.5,162.5 660,163.12 665,164.38 668.75,166.88 672.5,169.38 676.25,172.25 678.75,173.5 675.62,174.75 680,176.5 685.62,179.38 681.25,179.75 678.12,181.25 676.25,185 674.38,183.75 671.25,185 666.88,185.62 665,186.88 666.25,189.38 670,191.25 673.12,194.38 672.5,196.88 675,198.12 674.38,200.62 675.62,202.5 674.75,206.88 670.62,203.12 666.25,199.38 662.5,195.62 659.38,192.5 658.12,190.62 660,188.12 659.75,184.38 660.62,181.88 658.12,179.38 656.88,183.12 653.75,183.75 651.25,181.88 648.12,183.12 647.5,185.62 650,187.25 645,187.5 640,186.5 633.75,187.25 628.12,187.75 626.25,192.5 624.38,197.5 626.88,198.12 631.25,200 636.25,199.38 640,201.25 642.5,206.25 645,211.25 646.25,216.25 645.62,221.25 644.38,225 641.25,228.12 638.12,228.75 637.5,232.5 636.88,236.25 637.5,239.75 640.62,241.25 643.12,245 643.75,248.12 641.25,250 638.5,249.38 636.88,245.62 635.62,243.12 635,240.62 633.12,240.62 630.62,240 630,237.5 628.12,236.25 625.62,235.62 623.12,236.88 621.25,234.38 618.75,235 615,238.12 618.12,240 620.62,241.88 624.38,241.5 626.88,243.12 624.38,245.62 622.5,248.12 625,250 628.75,254.38 631.25,258.12 632.75,262.5 633.75,266.25 633.12,270 633.12,268.75 631.25,273.12 628.12,276.88 624.38,280 620,281.88 616.25,283.12 613.75,284.38 611.88,283.75 612.5,286.25 611.25,284.38 609.38,283.12 606.25,281.88 603.75,280.62 605,283.12 603.12,285.62 604.38,288.75 608.12,293.75 611.88,298.12 613.75,303.75 613.12,308.12 610,311.25 606.25,314.38 604.38,316.25 603.75,313.75 603.12,311.88 600.62,310.62 598.5,308.12 596.88,306.88 594.38,305 591.88,303.12 590.62,305 590,308.75 593.12,313.75 595,318.12 596.88,321.88 599.38,325 601.88,328.75 603.12,333.12 603.75,336.25 601.88,336.88 599.38,334.38 596.88,331.25 594.38,327.5 592.5,323.75 590.62,320 588.75,317.5 588.75,313.75 588.75,310 588.5,307.5 588.12,304.38 586.88,300.62 585,297.5 581.88,298.75 579.38,298.12 578.12,295 576.25,291.88 574.38,288.12 572.5,285 571.88,281.88 568.75,281.88 566.25,280.62 564.38,281.88 562.5,282.5 560,285 557.5,288.75 553.75,292.5 550,296.25 546.88,298.75 545.62,302.5 546.25,306.25 545.62,310 544.5,317.5 537.25,310 536.25,308.12 533.75,303.75 531.25,298.75 529.38,294.38 528.12,290 527.5,286.25 525.62,284.38 523.12,285 520.62,283.12 518.75,280 517.5,277.5 515,275 513.12,273.75 508.12,274 503.75,274 501.25,273.75 497.5,273.75 492.5,272.5 489.38,271.25 486.25,270.62 482.5,270 478.75,266.88 475,263.75 471.25,260.62 468.12,259.38 466.5,260.62 466.88,262.5 468.75,265 471.25,267.5 473.75,270.62 475.62,273.75 477.25,275 476.88,271.88 478.5,271.88 478.75,275.62 479.38,277.25 480.62,277.75 483.75,277.12 486.5,275.25 487.75,273.75 488.75,272.25 490,275 492.5,276.88 495.62,278.75 498.12,280.62 497.5,283.12 495,286.88 493.12,290 490,292.5 485.62,295 482.5,296.88 480,299.38 475,301.25 470,303.12 465.62,305 461.88,305 461.25,301.88 460.62,298.12 459.38,295 456.88,291.88 453.75,287.5 450.62,282.5 447.5,277.5 444.38,272.5 441.88,267.5 442.15,267.75 440.88,265.5 440.88,262.88 440.65,262.5 440.35,259.5 439.9,257.1 440.13,255 440.5,252.75 440.88,249.38 441.25,246.75 440.62,247.5 441.88,243.12 438.75,243.75 435,243.12 431.25,245 426.88,244.38 422.5,243.12 418.75,241.25 418.12,237.5 417.5,234.38 420,231.88 418.12,232.75 415,231.88 412.5,233.75 410.62,236.25 412.5,238.75 414.38,241.88 411.88,243.12 409.38,240 407.5,236.88 406,233.75 404.38,235 403.75,233.12 402.5,231.25 400,229.38 397.5,226.88 395,223.75 393.12,221.5 391.88,220.62 390,221.88 388.75,223.75 391.25,227.5 395,230 398.75,233.12 401.88,235 400.62,236.25 398.12,235.62 398.75,238.75 397.5,241.25 395.62,240 396.25,236.88 393.75,234.38 390,231.25 386.88,228.75 384.38,226.25 381.88,225.62 380,225 378.12,225 375,226.5 371.25,227.25 368.12,229.38 366.88,232.5 364.38,235.62 362.5,238.75 360.62,242.5 356.88,244.38 352.5,245" fill="none" stroke="rgba(90,90,90,0.3)" stroke-width="0.5"/>
</g>
<g>
<rect x="244.5" y="537.5" width="48" height="11" fill="url(#ndl)" stroke="#ccc" stroke-width="0.7"/>
<line x1="268.3" y1="534" x2="268.3" y2="537.5" stroke="#bbb" stroke-width="0.7"/>
<rect x="312.2" y="537.5" width="58.5" height="11" fill="#f0f9e8"/>
<rect x="370.7" y="537.5" width="58.5" height="11" fill="#bae4bc"/>
<rect x="429.2" y="537.5" width="58.5" height="11" fill="#7bccc4"/>
<rect x="487.7" y="537.5" width="58.5" height="11" fill="#43a2ca"/>
<rect x="546.2" y="537.5" width="58.5" height="11" fill="#0868ac"/>
<rect x="312.2" y="537.5" width="292.5" height="11" fill="none" stroke="#c8c8c8" stroke-width="0.7"/>
<line x1="312.2" y1="534" x2="312.2" y2="548.5" stroke="#8a8a8a" stroke-width="0.7"/>
<line x1="370.7" y1="534" x2="370.7" y2="548.5" stroke="#8a8a8a" stroke-width="0.7"/>
<line x1="429.2" y1="534" x2="429.2" y2="548.5" stroke="#8a8a8a" stroke-width="0.7"/>
<line x1="487.7" y1="534" x2="487.7" y2="548.5" stroke="#8a8a8a" stroke-width="0.7"/>
<line x1="546.2" y1="534" x2="546.2" y2="548.5" stroke="#8a8a8a" stroke-width="0.7"/>
<line x1="604.7" y1="534" x2="604.7" y2="548.5" stroke="#8a8a8a" stroke-width="0.7"/>
</g>
<g font-family="Liberation Sans, sans-serif" font-size="12.5" fill="#5b5b5b" text-anchor="middle">
<text x="268.4" y="530" letter-spacing="0.3">No data</text>
<text x="312.2" y="530">0</text>
<text x="370.7" y="530">0.2</text>
<text x="429.2" y="530">0.4</text>
<text x="487.7" y="530">0.6</text>
<text x="546.2" y="530">0.8</text>
<text x="604.7" y="530">1</text>
</g>
</svg>
</body></html>
